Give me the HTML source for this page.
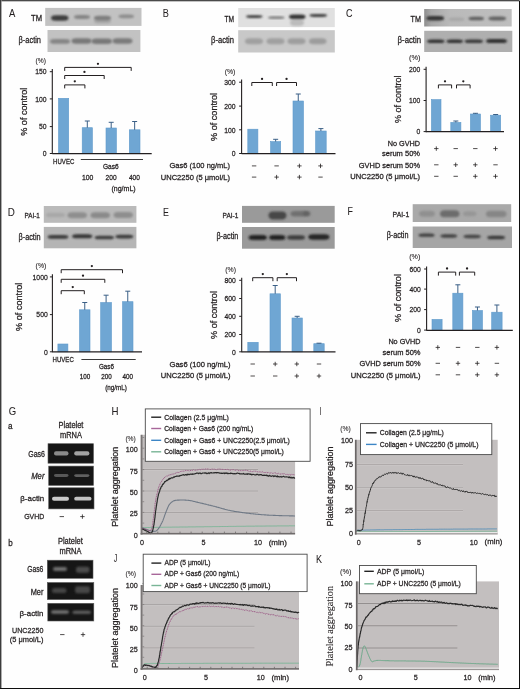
<!DOCTYPE html><html><head><meta charset="utf-8"><style>html,body{margin:0;padding:0;background:#fff;}svg{display:block;will-change:transform;}text{font-family:"Liberation Sans",sans-serif;}</style></head><body><svg width="520" height="689" viewBox="0 0 520 689" font-family='"Liberation Sans", sans-serif'><defs><filter id="bl" x="-50%" y="-50%" width="200%" height="200%"><feGaussianBlur stdDeviation="1.05"/></filter><linearGradient id="gC" x1="0" x2="1" y1="0" y2="0"><stop offset="0" stop-color="#8e8e8e"/><stop offset="0.08" stop-color="#a8a8a8"/><stop offset="0.3" stop-color="#bababa"/><stop offset="1" stop-color="#bebebe"/></linearGradient><filter id="bl2" x="-50%" y="-50%" width="200%" height="200%"><feGaussianBlur stdDeviation="1.4"/></filter><filter id="blg" x="-50%" y="-50%" width="200%" height="200%"><feGaussianBlur stdDeviation="0.75"/></filter><filter id="bl3" x="-50%" y="-50%" width="200%" height="200%"><feGaussianBlur stdDeviation="0.5"/></filter></defs>
<rect x="0" y="0" width="520" height="689" fill="#fefefe" />
<text x="9.00" y="17.12" font-size="10.8" fill="#231f20" stroke="#231f20" stroke-width="0.05" textLength="6.30" lengthAdjust="spacingAndGlyphs">A</text>
<g>
<rect x="45.2" y="7.9" width="96.3" height="18.0" fill="#c2c2c2" />
<rect x="51" y="15.25" width="17.5" height="5.5" rx="4.5" ry="2.75" fill="#3e3e3e" opacity="1" filter="url(#bl)"/>
<rect x="74" y="15.1" width="16" height="3.8" rx="4.5" ry="1.9" fill="#848484" opacity="1" filter="url(#bl)"/>
<rect x="94" y="18.5" width="17" height="5" rx="4.5" ry="2.5" fill="#a8a8a8" opacity="1" filter="url(#bl)"/>
<rect x="94" y="15.8" width="17" height="4.6" rx="4.5" ry="2.3" fill="#7e7e7e" opacity="1" filter="url(#bl)"/>
<rect x="118.5" y="14.4" width="15.5" height="3.8" rx="4.5" ry="1.9" fill="#8c8c8c" opacity="1" filter="url(#bl)"/>
</g>
<g>
<rect x="47.5" y="30" width="92.9" height="22" fill="#c2c2c2" />
<rect x="50" y="39.0" width="20" height="4.8" rx="4.5" ry="2.4" fill="#858585" opacity="1" filter="url(#bl)"/>
<rect x="71.5" y="38.35" width="20.0" height="5.5" rx="4.5" ry="2.75" fill="#787878" opacity="1" filter="url(#bl)"/>
<rect x="91.5" y="38.55" width="20.5" height="5.5" rx="4.5" ry="2.75" fill="#787878" opacity="1" filter="url(#bl)"/>
<rect x="112.5" y="38.35" width="20.0" height="5.5" rx="4.5" ry="2.75" fill="#7a7a7a" opacity="1" filter="url(#bl)"/>
</g>
<text x="31.00" y="20.52" font-size="8.2" fill="#231f20" stroke="#231f20" stroke-width="0.26" textLength="11.00" lengthAdjust="spacingAndGlyphs">TM</text>
<text x="18.60" y="43.46" font-size="8.3" fill="#231f20" stroke="#231f20" stroke-width="0.26" textLength="22.40" lengthAdjust="spacingAndGlyphs">β-actin</text>
<text x="35.60" y="62.84" font-size="6.5" fill="#231f20" stroke="#231f20" stroke-width="0.08" textLength="10.40" lengthAdjust="spacingAndGlyphs">(%)</text>
<rect x="58.5" y="98.3" width="10.200000000000003" height="55.3" fill="#6fa6d3" stroke="#5f9acb" stroke-width="0.6"/>
<rect x="82.2" y="127.7" width="10.200000000000003" height="25.89999999999999" fill="#6fa6d3" stroke="#5f9acb" stroke-width="0.6"/>
<line x1="87.30000000000001" y1="121" x2="87.30000000000001" y2="127.7" stroke="#3a5f86" stroke-width="1"/>
<line x1="84.80000000000001" y1="121" x2="89.80000000000001" y2="121" stroke="#3a5f86" stroke-width="1"/>
<rect x="106" y="128" width="10.400000000000006" height="25.599999999999994" fill="#6fa6d3" stroke="#5f9acb" stroke-width="0.6"/>
<line x1="111.2" y1="122.3" x2="111.2" y2="128" stroke="#3a5f86" stroke-width="1"/>
<line x1="108.7" y1="122.3" x2="113.7" y2="122.3" stroke="#3a5f86" stroke-width="1"/>
<rect x="129.3" y="129.8" width="10.699999999999989" height="23.799999999999983" fill="#6fa6d3" stroke="#5f9acb" stroke-width="0.6"/>
<line x1="134.65" y1="121.5" x2="134.65" y2="129.8" stroke="#3a5f86" stroke-width="1"/>
<line x1="132.15" y1="121.5" x2="137.15" y2="121.5" stroke="#3a5f86" stroke-width="1"/>
<line x1="52.3" y1="69.10000000000001" x2="52.3" y2="154.1" stroke="#231f20" stroke-width="1.1"/>
<line x1="49.8" y1="71.7" x2="52.3" y2="71.7" stroke="#231f20" stroke-width="1"/>
<text transform="translate(46.50,74.49) scale(0.84,1)" text-anchor="end" font-size="8.1" fill="#231f20" stroke="#231f20" stroke-width="0.26">150</text>
<line x1="49.8" y1="98.9" x2="52.3" y2="98.9" stroke="#231f20" stroke-width="1"/>
<text transform="translate(46.50,101.69) scale(0.84,1)" text-anchor="end" font-size="8.1" fill="#231f20" stroke="#231f20" stroke-width="0.26">100</text>
<line x1="49.8" y1="126.6" x2="52.3" y2="126.6" stroke="#231f20" stroke-width="1"/>
<text transform="translate(46.50,129.39) scale(0.84,1)" text-anchor="end" font-size="8.1" fill="#231f20" stroke="#231f20" stroke-width="0.26">50</text>
<line x1="49.8" y1="153.5" x2="52.3" y2="153.5" stroke="#231f20" stroke-width="1"/>
<text transform="translate(46.50,156.29) scale(0.84,1)" text-anchor="end" font-size="8.1" fill="#231f20" stroke="#231f20" stroke-width="0.26">0</text>
<line x1="52.3" y1="153.6" x2="151.7" y2="153.6" stroke="#231f20" stroke-width="1.2"/>
<path d="M64.7 88.39999999999999 V84.89999999999999 H84.9 V88.39999999999999" fill="none" stroke="#231f20" stroke-width="1.0"/>
<circle cx="74.80000000000001" cy="81.3" r="1.15" fill="#231f20"/>
<path d="M64.7 79.0 V75.5 H104.2 V79.0" fill="none" stroke="#231f20" stroke-width="1.0"/>
<circle cx="84.45" cy="71.9" r="1.15" fill="#231f20"/>
<path d="M64.7 70.89999999999999 V67.39999999999999 H131.2 V70.89999999999999" fill="none" stroke="#231f20" stroke-width="1.0"/>
<circle cx="97.94999999999999" cy="63.79999999999999" r="1.15" fill="#231f20"/>
<text transform="translate(26.97,111.75) rotate(-90)" x="-24.00" y="0" font-size="9.8" fill="#231f20" stroke="#231f20" stroke-width="0.26" textLength="48.00" lengthAdjust="spacingAndGlyphs">% of control</text>
<text x="53.10" y="163.78" font-size="7.5" fill="#231f20" stroke="#231f20" stroke-width="0.26" textLength="21.20" lengthAdjust="spacingAndGlyphs">HUVEC</text>
<line x1="80.8" y1="159.5" x2="143" y2="159.5" stroke="#3a3a3a" stroke-width="1.1"/>
<text x="103.00" y="169.48" font-size="7.5" fill="#231f20" stroke="#231f20" stroke-width="0.26" textLength="15.70" lengthAdjust="spacingAndGlyphs">Gas6</text>
<text x="81.90" y="180.28" font-size="7.5" fill="#231f20" stroke="#231f20" stroke-width="0.26" textLength="11.40" lengthAdjust="spacingAndGlyphs">100</text>
<text x="105.60" y="180.28" font-size="7.5" fill="#231f20" stroke="#231f20" stroke-width="0.26" textLength="11.00" lengthAdjust="spacingAndGlyphs">200</text>
<text x="128.90" y="180.28" font-size="7.5" fill="#231f20" stroke="#231f20" stroke-width="0.26" textLength="11.00" lengthAdjust="spacingAndGlyphs">400</text>
<text x="111.50" y="190.78" font-size="7.5" fill="#231f20" stroke="#231f20" stroke-width="0.26" textLength="24.10" lengthAdjust="spacingAndGlyphs">(ng/mL)</text>
<text x="162.70" y="17.21" font-size="10.5" fill="#231f20" stroke="#231f20" stroke-width="0.05" textLength="6.10" lengthAdjust="spacingAndGlyphs">B</text>
<g>
<rect x="238.2" y="8" width="96.60000000000002" height="19.1" fill="#e0e0e0" />
<rect x="246" y="15.200000000000001" width="16.5" height="2.8" rx="4.5" ry="1.4" fill="#3a3a3a" opacity="1" filter="url(#bl)"/>
<rect x="268" y="16.400000000000002" width="16.5" height="2.4" rx="4.5" ry="1.2" fill="#6e6e6e" opacity="1" filter="url(#bl)"/>
<rect x="290" y="19.0" width="14" height="7" rx="4.5" ry="3.5" fill="#bcbcbc" opacity="1" filter="url(#bl)"/>
<rect x="289" y="14.5" width="16.5" height="4.6" rx="4.5" ry="2.3" fill="#363636" opacity="1" filter="url(#bl)"/>
<rect x="309.5" y="14.1" width="17.5" height="2.8" rx="4.5" ry="1.4" fill="#404040" opacity="1" filter="url(#bl)"/>
</g>
<g>
<rect x="238.2" y="30.2" width="96.60000000000002" height="22.3" fill="#c8c8c8" />
<rect x="245" y="38.3" width="18" height="6" rx="4.5" ry="3.0" fill="#a0a0a0" opacity="1" filter="url(#bl)"/>
<rect x="266.5" y="38.3" width="18.0" height="6" rx="4.5" ry="3.0" fill="#a0a0a0" opacity="1" filter="url(#bl)"/>
<rect x="287.5" y="38.3" width="18.0" height="6" rx="4.5" ry="3.0" fill="#9e9e9e" opacity="1" filter="url(#bl)"/>
<rect x="309" y="38.3" width="17.5" height="6" rx="4.5" ry="3.0" fill="#9c9c9c" opacity="1" filter="url(#bl)"/>
</g>
<text x="224.50" y="22.12" font-size="8.2" fill="#231f20" stroke="#231f20" stroke-width="0.26" textLength="9.60" lengthAdjust="spacingAndGlyphs">TM</text>
<text x="211.00" y="42.56" font-size="8.3" fill="#231f20" stroke="#231f20" stroke-width="0.26" textLength="23.00" lengthAdjust="spacingAndGlyphs">β-actin</text>
<text x="224.70" y="73.74" font-size="6.5" fill="#231f20" stroke="#231f20" stroke-width="0.08" textLength="10.70" lengthAdjust="spacingAndGlyphs">(%)</text>
<rect x="247.8" y="129.2" width="10.099999999999966" height="24.400000000000006" fill="#6fa6d3" stroke="#5f9acb" stroke-width="0.6"/>
<rect x="270.6" y="141.6" width="10.099999999999966" height="12.0" fill="#6fa6d3" stroke="#5f9acb" stroke-width="0.6"/>
<line x1="275.65" y1="139.3" x2="275.65" y2="141.6" stroke="#3a5f86" stroke-width="1"/>
<line x1="273.15" y1="139.3" x2="278.15" y2="139.3" stroke="#3a5f86" stroke-width="1"/>
<rect x="293" y="101" width="10.5" height="52.599999999999994" fill="#6fa6d3" stroke="#5f9acb" stroke-width="0.6"/>
<line x1="298.25" y1="94" x2="298.25" y2="101" stroke="#3a5f86" stroke-width="1"/>
<line x1="295.75" y1="94" x2="300.75" y2="94" stroke="#3a5f86" stroke-width="1"/>
<rect x="315.6" y="131" width="10.599999999999966" height="22.599999999999994" fill="#6fa6d3" stroke="#5f9acb" stroke-width="0.6"/>
<line x1="320.9" y1="128.6" x2="320.9" y2="131" stroke="#3a5f86" stroke-width="1"/>
<line x1="318.4" y1="128.6" x2="323.4" y2="128.6" stroke="#3a5f86" stroke-width="1"/>
<line x1="241.6" y1="79.60000000000001" x2="241.6" y2="154.1" stroke="#231f20" stroke-width="1.1"/>
<line x1="239.1" y1="82.2" x2="241.6" y2="82.2" stroke="#231f20" stroke-width="1"/>
<text transform="translate(235.60,84.99) scale(0.84,1)" text-anchor="end" font-size="8.1" fill="#231f20" stroke="#231f20" stroke-width="0.26">300</text>
<line x1="239.1" y1="106.1" x2="241.6" y2="106.1" stroke="#231f20" stroke-width="1"/>
<text transform="translate(235.60,108.89) scale(0.84,1)" text-anchor="end" font-size="8.1" fill="#231f20" stroke="#231f20" stroke-width="0.26">200</text>
<line x1="239.1" y1="129.8" x2="241.6" y2="129.8" stroke="#231f20" stroke-width="1"/>
<text transform="translate(235.60,132.59) scale(0.84,1)" text-anchor="end" font-size="8.1" fill="#231f20" stroke="#231f20" stroke-width="0.26">100</text>
<line x1="239.1" y1="153.5" x2="241.6" y2="153.5" stroke="#231f20" stroke-width="1"/>
<text transform="translate(235.60,156.29) scale(0.84,1)" text-anchor="end" font-size="8.1" fill="#231f20" stroke="#231f20" stroke-width="0.26">0</text>
<line x1="241.6" y1="153.6" x2="335.5" y2="153.6" stroke="#231f20" stroke-width="1.2"/>
<path d="M251.8 86.0 V82.5 H272.3 V86.0" fill="none" stroke="#231f20" stroke-width="1.0"/>
<circle cx="262.05" cy="78.9" r="1.15" fill="#231f20"/>
<path d="M276.6 86.0 V82.5 H296.5 V86.0" fill="none" stroke="#231f20" stroke-width="1.0"/>
<circle cx="286.55" cy="78.9" r="1.15" fill="#231f20"/>
<text transform="translate(216.67,116.90) rotate(-90)" x="-24.00" y="0" font-size="9.8" fill="#231f20" stroke="#231f20" stroke-width="0.26" textLength="48.00" lengthAdjust="spacingAndGlyphs">% of control</text>
<line x1="251.9" y1="165.9" x2="256.3" y2="165.9" stroke="#231f20" stroke-width="0.8"/>
<line x1="274.40000000000003" y1="165.9" x2="278.8" y2="165.9" stroke="#231f20" stroke-width="0.8"/>
<line x1="297.2" y1="165.9" x2="301.59999999999997" y2="165.9" stroke="#231f20" stroke-width="0.8"/>
<line x1="299.4" y1="163.70000000000002" x2="299.4" y2="168.1" stroke="#231f20" stroke-width="0.8"/>
<line x1="318.3" y1="165.9" x2="322.7" y2="165.9" stroke="#231f20" stroke-width="0.8"/>
<line x1="320.5" y1="163.70000000000002" x2="320.5" y2="168.1" stroke="#231f20" stroke-width="0.8"/>
<line x1="251.9" y1="177.1" x2="256.3" y2="177.1" stroke="#231f20" stroke-width="0.8"/>
<line x1="274.40000000000003" y1="177.1" x2="278.8" y2="177.1" stroke="#231f20" stroke-width="0.8"/>
<line x1="276.6" y1="174.9" x2="276.6" y2="179.29999999999998" stroke="#231f20" stroke-width="0.8"/>
<line x1="297.2" y1="177.1" x2="301.59999999999997" y2="177.1" stroke="#231f20" stroke-width="0.8"/>
<line x1="299.4" y1="174.9" x2="299.4" y2="179.29999999999998" stroke="#231f20" stroke-width="0.8"/>
<line x1="318.3" y1="177.1" x2="322.7" y2="177.1" stroke="#231f20" stroke-width="0.8"/>
<text x="169.50" y="168.28" font-size="7.5" fill="#231f20" stroke="#231f20" stroke-width="0.26" textLength="60.50" lengthAdjust="spacingAndGlyphs">Gas6 (100 ng/mL)</text>
<text x="160.80" y="179.78" font-size="7.5" fill="#231f20" stroke="#231f20" stroke-width="0.26" textLength="69.20" lengthAdjust="spacingAndGlyphs">UNC2250 (5 μmol/L)</text>
<text x="346.00" y="17.21" font-size="10.5" fill="#231f20" stroke="#231f20" stroke-width="0.05" textLength="6.50" lengthAdjust="spacingAndGlyphs">C</text>
<g>
<rect x="424.2" y="9" width="87.5" height="17.5" fill="url(#gC)" />
<rect x="426.5" y="16.05" width="17.5" height="4.5" rx="4.5" ry="2.25" fill="#353535" opacity="1" filter="url(#bl)"/>
<rect x="448.5" y="17.45" width="16.0" height="3.5" rx="4.5" ry="1.75" fill="#a8a8a8" opacity="1" filter="url(#bl)"/>
<rect x="468.5" y="16.75" width="15.5" height="3.5" rx="4.5" ry="1.75" fill="#5e5e5e" opacity="1" filter="url(#bl)"/>
<rect x="488.5" y="16.6" width="17.5" height="3.8" rx="4.5" ry="1.9" fill="#646464" opacity="1" filter="url(#bl)"/>
</g>
<g>
<rect x="424.2" y="30.8" width="88.09999999999997" height="21.2" fill="#afafaf" />
<rect x="427" y="39.5" width="17.5" height="3.6" rx="4.5" ry="1.8" fill="#303030" opacity="1" filter="url(#bl)"/>
<rect x="446.5" y="39.5" width="16.5" height="3.6" rx="4.5" ry="1.8" fill="#303030" opacity="1" filter="url(#bl)"/>
<rect x="464.6" y="39.400000000000006" width="18.399999999999977" height="3.6" rx="4.5" ry="1.8" fill="#383838" opacity="1" filter="url(#bl)"/>
<rect x="486" y="38.9" width="21" height="4.2" rx="4.5" ry="2.1" fill="#303030" opacity="1" filter="url(#bl)"/>
</g>
<text x="410.60" y="22.02" font-size="8.2" fill="#231f20" stroke="#231f20" stroke-width="0.26" textLength="10.40" lengthAdjust="spacingAndGlyphs">TM</text>
<text x="397.60" y="42.76" font-size="8.3" fill="#231f20" stroke="#231f20" stroke-width="0.26" textLength="23.40" lengthAdjust="spacingAndGlyphs">β-actin</text>
<text x="409.00" y="59.94" font-size="6.5" fill="#231f20" stroke="#231f20" stroke-width="0.08" textLength="11.50" lengthAdjust="spacingAndGlyphs">(%)</text>
<rect x="431.4" y="99.6" width="9.600000000000023" height="32.099999999999994" fill="#6fa6d3" stroke="#5f9acb" stroke-width="0.6"/>
<rect x="450.8" y="122.4" width="10.099999999999966" height="9.299999999999983" fill="#6fa6d3" stroke="#5f9acb" stroke-width="0.6"/>
<line x1="455.85" y1="121" x2="455.85" y2="122.4" stroke="#3a5f86" stroke-width="1"/>
<line x1="453.35" y1="121" x2="458.35" y2="121" stroke="#3a5f86" stroke-width="1"/>
<rect x="470.4" y="114" width="10.100000000000023" height="17.69999999999999" fill="#6fa6d3" stroke="#5f9acb" stroke-width="0.6"/>
<line x1="475.45" y1="113.3" x2="475.45" y2="114" stroke="#3a5f86" stroke-width="1"/>
<line x1="472.95" y1="113.3" x2="477.95" y2="113.3" stroke="#3a5f86" stroke-width="1"/>
<rect x="490.6" y="115.2" width="10.099999999999966" height="16.499999999999986" fill="#6fa6d3" stroke="#5f9acb" stroke-width="0.6"/>
<line x1="495.65" y1="114.5" x2="495.65" y2="115.2" stroke="#3a5f86" stroke-width="1"/>
<line x1="493.15" y1="114.5" x2="498.15" y2="114.5" stroke="#3a5f86" stroke-width="1"/>
<line x1="426.1" y1="66.7" x2="426.1" y2="132.2" stroke="#231f20" stroke-width="1.1"/>
<line x1="423.6" y1="69.3" x2="426.1" y2="69.3" stroke="#231f20" stroke-width="1"/>
<text transform="translate(420.30,72.09) scale(0.84,1)" text-anchor="end" font-size="8.1" fill="#231f20" stroke="#231f20" stroke-width="0.26">200</text>
<line x1="423.6" y1="100.5" x2="426.1" y2="100.5" stroke="#231f20" stroke-width="1"/>
<text transform="translate(420.30,103.29) scale(0.84,1)" text-anchor="end" font-size="8.1" fill="#231f20" stroke="#231f20" stroke-width="0.26">100</text>
<line x1="423.6" y1="131.6" x2="426.1" y2="131.6" stroke="#231f20" stroke-width="1"/>
<text transform="translate(420.30,134.39) scale(0.84,1)" text-anchor="end" font-size="8.1" fill="#231f20" stroke="#231f20" stroke-width="0.26">0</text>
<line x1="426.1" y1="131.7" x2="504" y2="131.7" stroke="#231f20" stroke-width="1.2"/>
<path d="M438.4 88.39999999999999 V84.89999999999999 H451.6 V88.39999999999999" fill="none" stroke="#231f20" stroke-width="1.0"/>
<circle cx="445.0" cy="81.3" r="1.15" fill="#231f20"/>
<path d="M456.5 88.39999999999999 V84.89999999999999 H470.1 V88.39999999999999" fill="none" stroke="#231f20" stroke-width="1.0"/>
<circle cx="463.3" cy="81.3" r="1.15" fill="#231f20"/>
<text transform="translate(400.97,99.30) rotate(-90)" x="-23.75" y="0" font-size="9.8" fill="#231f20" stroke="#231f20" stroke-width="0.26" textLength="47.50" lengthAdjust="spacingAndGlyphs">% of control</text>
<text x="387.70" y="146.38" font-size="7.5" fill="#231f20" stroke="#231f20" stroke-width="0.26" textLength="32.30" lengthAdjust="spacingAndGlyphs">No GVHD</text>
<text x="382.00" y="155.58" font-size="7.5" fill="#231f20" stroke="#231f20" stroke-width="0.26" textLength="38.00" lengthAdjust="spacingAndGlyphs">serum 50%</text>
<text x="358.80" y="167.58" font-size="7.5" fill="#231f20" stroke="#231f20" stroke-width="0.26" textLength="61.20" lengthAdjust="spacingAndGlyphs">GVHD serum 50%</text>
<text x="350.30" y="179.38" font-size="7.5" fill="#231f20" stroke="#231f20" stroke-width="0.26" textLength="69.70" lengthAdjust="spacingAndGlyphs">UNC2250 (5 μmol/L)</text>
<line x1="434.1" y1="148.6" x2="438.5" y2="148.6" stroke="#231f20" stroke-width="0.8"/>
<line x1="436.3" y1="146.4" x2="436.3" y2="150.79999999999998" stroke="#231f20" stroke-width="0.8"/>
<line x1="453.5" y1="148.6" x2="457.9" y2="148.6" stroke="#231f20" stroke-width="0.8"/>
<line x1="473.1" y1="148.6" x2="477.5" y2="148.6" stroke="#231f20" stroke-width="0.8"/>
<line x1="493.3" y1="148.6" x2="497.7" y2="148.6" stroke="#231f20" stroke-width="0.8"/>
<line x1="495.5" y1="146.4" x2="495.5" y2="150.79999999999998" stroke="#231f20" stroke-width="0.8"/>
<line x1="434.1" y1="164.8" x2="438.5" y2="164.8" stroke="#231f20" stroke-width="0.8"/>
<line x1="453.5" y1="164.8" x2="457.9" y2="164.8" stroke="#231f20" stroke-width="0.8"/>
<line x1="455.7" y1="162.60000000000002" x2="455.7" y2="167.0" stroke="#231f20" stroke-width="0.8"/>
<line x1="473.1" y1="164.8" x2="477.5" y2="164.8" stroke="#231f20" stroke-width="0.8"/>
<line x1="475.3" y1="162.60000000000002" x2="475.3" y2="167.0" stroke="#231f20" stroke-width="0.8"/>
<line x1="493.3" y1="164.8" x2="497.7" y2="164.8" stroke="#231f20" stroke-width="0.8"/>
<line x1="434.1" y1="176.3" x2="438.5" y2="176.3" stroke="#231f20" stroke-width="0.8"/>
<line x1="453.5" y1="176.3" x2="457.9" y2="176.3" stroke="#231f20" stroke-width="0.8"/>
<line x1="473.1" y1="176.3" x2="477.5" y2="176.3" stroke="#231f20" stroke-width="0.8"/>
<line x1="475.3" y1="174.10000000000002" x2="475.3" y2="178.5" stroke="#231f20" stroke-width="0.8"/>
<line x1="493.3" y1="176.3" x2="497.7" y2="176.3" stroke="#231f20" stroke-width="0.8"/>
<line x1="495.5" y1="174.10000000000002" x2="495.5" y2="178.5" stroke="#231f20" stroke-width="0.8"/>
<text x="7.70" y="216.01" font-size="10.5" fill="#231f20" stroke="#231f20" stroke-width="0.05" textLength="7.10" lengthAdjust="spacingAndGlyphs">D</text>
<g>
<rect x="43.8" y="206" width="92.60000000000001" height="16.80000000000001" fill="#bababa" />
<rect x="46" y="212.75" width="19" height="4.5" rx="4.5" ry="2.25" fill="#a8a8a8" opacity="1" filter="url(#bl)"/>
<rect x="67.5" y="212.3" width="19.5" height="6" rx="4.5" ry="3.0" fill="#8e8e8e" opacity="1" filter="url(#bl)"/>
<rect x="90.5" y="212.2" width="19.5" height="6" rx="4.5" ry="3.0" fill="#8a8a8a" opacity="1" filter="url(#bl)"/>
<rect x="113.5" y="212.0" width="19.5" height="6" rx="4.5" ry="3.0" fill="#8e8e8e" opacity="1" filter="url(#bl)"/>
</g>
<g>
<rect x="43.8" y="226.9" width="92.60000000000001" height="21.400000000000006" fill="#b5b5b5" />
<rect x="47.6" y="235.1" width="20.800000000000004" height="3.6" rx="4.5" ry="1.8" fill="#3a3a3a" opacity="1" filter="url(#bl)"/>
<rect x="72.1" y="234.3" width="20.200000000000003" height="4" rx="4.5" ry="2.0" fill="#363636" opacity="1" filter="url(#bl)"/>
<rect x="94.6" y="235.7" width="19.400000000000006" height="3.6" rx="4.5" ry="1.8" fill="#3a3a3a" opacity="1" filter="url(#bl)"/>
<rect x="115.4" y="234.7" width="17.900000000000006" height="3.8" rx="4.5" ry="1.9" fill="#3a3a3a" opacity="1" filter="url(#bl)"/>
</g>
<text x="24.50" y="218.05" font-size="7.4" fill="#231f20" stroke="#231f20" stroke-width="0.26" textLength="15.30" lengthAdjust="spacingAndGlyphs">PAI-1</text>
<text x="18.50" y="239.76" font-size="8.3" fill="#231f20" stroke="#231f20" stroke-width="0.26" textLength="22.10" lengthAdjust="spacingAndGlyphs">β-actin</text>
<text x="35.60" y="267.54" font-size="6.5" fill="#231f20" stroke="#231f20" stroke-width="0.08" textLength="10.70" lengthAdjust="spacingAndGlyphs">(%)</text>
<rect x="57.9" y="344" width="10.000000000000007" height="7.800000000000011" fill="#6fa6d3" stroke="#5f9acb" stroke-width="0.6"/>
<rect x="79.5" y="309.8" width="10.5" height="42.0" fill="#6fa6d3" stroke="#5f9acb" stroke-width="0.6"/>
<line x1="84.75" y1="302.5" x2="84.75" y2="309.8" stroke="#3a5f86" stroke-width="1"/>
<line x1="82.25" y1="302.5" x2="87.25" y2="302.5" stroke="#3a5f86" stroke-width="1"/>
<rect x="100.7" y="302.5" width="10.799999999999997" height="49.30000000000001" fill="#6fa6d3" stroke="#5f9acb" stroke-width="0.6"/>
<line x1="106.1" y1="295.2" x2="106.1" y2="302.5" stroke="#3a5f86" stroke-width="1"/>
<line x1="103.6" y1="295.2" x2="108.6" y2="295.2" stroke="#3a5f86" stroke-width="1"/>
<rect x="122.5" y="301.7" width="10.5" height="50.10000000000002" fill="#6fa6d3" stroke="#5f9acb" stroke-width="0.6"/>
<line x1="127.75" y1="291.2" x2="127.75" y2="301.7" stroke="#3a5f86" stroke-width="1"/>
<line x1="125.25" y1="291.2" x2="130.25" y2="291.2" stroke="#3a5f86" stroke-width="1"/>
<line x1="52.4" y1="274.29999999999995" x2="52.4" y2="352.3" stroke="#231f20" stroke-width="1.1"/>
<line x1="49.9" y1="276.9" x2="52.4" y2="276.9" stroke="#231f20" stroke-width="1"/>
<text transform="translate(47.70,279.69) scale(0.84,1)" text-anchor="end" font-size="8.1" fill="#231f20" stroke="#231f20" stroke-width="0.26">1000</text>
<line x1="49.9" y1="314.6" x2="52.4" y2="314.6" stroke="#231f20" stroke-width="1"/>
<text transform="translate(47.70,317.39) scale(0.84,1)" text-anchor="end" font-size="8.1" fill="#231f20" stroke="#231f20" stroke-width="0.26">500</text>
<line x1="49.9" y1="351.8" x2="52.4" y2="351.8" stroke="#231f20" stroke-width="1"/>
<text transform="translate(47.70,354.59) scale(0.84,1)" text-anchor="end" font-size="8.1" fill="#231f20" stroke="#231f20" stroke-width="0.26">0</text>
<line x1="52.4" y1="351.8" x2="142" y2="351.8" stroke="#231f20" stroke-width="1.2"/>
<path d="M61.2 294.2 V290.7 H84.3 V294.2" fill="none" stroke="#231f20" stroke-width="1.0"/>
<circle cx="72.75" cy="287.09999999999997" r="1.15" fill="#231f20"/>
<path d="M61.2 282.8 V279.3 H104.8 V282.8" fill="none" stroke="#231f20" stroke-width="1.0"/>
<circle cx="83.0" cy="275.7" r="1.15" fill="#231f20"/>
<path d="M61.2 273.2 V269.7 H122.5 V273.2" fill="none" stroke="#231f20" stroke-width="1.0"/>
<circle cx="91.85" cy="266.09999999999997" r="1.15" fill="#231f20"/>
<text transform="translate(22.47,306.80) rotate(-90)" x="-24.10" y="0" font-size="9.8" fill="#231f20" stroke="#231f20" stroke-width="0.26" textLength="48.20" lengthAdjust="spacingAndGlyphs">% of control</text>
<text x="52.50" y="362.08" font-size="7.5" fill="#231f20" stroke="#231f20" stroke-width="0.26" textLength="21.30" lengthAdjust="spacingAndGlyphs">HUVEC</text>
<line x1="81.4" y1="359.5" x2="135.7" y2="359.5" stroke="#3a3a3a" stroke-width="1.1"/>
<text transform="translate(106.40,368.71) scale(0.9,1)" text-anchor="middle" font-size="7" fill="#231f20" stroke="#231f20" stroke-width="0.26">Gas6</text>
<text transform="translate(84.90,378.91) scale(0.9,1)" text-anchor="middle" font-size="7" fill="#231f20" stroke="#231f20" stroke-width="0.26">100</text>
<text transform="translate(106.40,378.91) scale(0.9,1)" text-anchor="middle" font-size="7" fill="#231f20" stroke="#231f20" stroke-width="0.26">200</text>
<text transform="translate(127.70,378.91) scale(0.9,1)" text-anchor="middle" font-size="7" fill="#231f20" stroke="#231f20" stroke-width="0.26">400</text>
<text transform="translate(116.00,390.31) scale(0.9,1)" text-anchor="middle" font-size="7" fill="#231f20" stroke="#231f20" stroke-width="0.26">(ng/mL)</text>
<text x="163.00" y="216.21" font-size="10.5" fill="#231f20" stroke="#231f20" stroke-width="0.05" textLength="5.90" lengthAdjust="spacingAndGlyphs">E</text>
<g>
<rect x="242" y="205.9" width="92.69999999999999" height="16.900000000000006" fill="#9a9a9a" />
<rect x="268.5" y="211.4" width="18.0" height="8" rx="4.5" ry="4.0" fill="#464646" opacity="1" filter="url(#bl)"/>
<rect x="290.5" y="211.05" width="20.0" height="5.5" rx="4.5" ry="2.75" fill="#707070" opacity="1" filter="url(#bl)"/>
<rect x="303" y="211.5" width="6" height="4" rx="2.727272727272727" ry="2.0" fill="#606060" opacity="1" filter="url(#bl)"/>
</g>
<g>
<rect x="242" y="227" width="92.69999999999999" height="21.69999999999999" fill="#9a9a9a" />
<rect x="248.6" y="234.9" width="18.400000000000006" height="5" rx="4.5" ry="2.5" fill="#222" opacity="1" filter="url(#bl)"/>
<rect x="269" y="234.9" width="16.399999999999977" height="5" rx="4.5" ry="2.5" fill="#222" opacity="1" filter="url(#bl)"/>
<rect x="287" y="235.15" width="18" height="4.5" rx="4.5" ry="2.25" fill="#3c3c3c" opacity="1" filter="url(#bl)"/>
<rect x="308.3" y="234.25" width="21.099999999999966" height="5.5" rx="4.5" ry="2.75" fill="#262626" opacity="1" filter="url(#bl)"/>
</g>
<text x="222.60" y="217.58" font-size="7.5" fill="#231f20" stroke="#231f20" stroke-width="0.26" textLength="15.70" lengthAdjust="spacingAndGlyphs">PAI-1</text>
<text x="216.40" y="239.26" font-size="8.3" fill="#231f20" stroke="#231f20" stroke-width="0.26" textLength="21.90" lengthAdjust="spacingAndGlyphs">β-actin</text>
<text x="225.30" y="271.54" font-size="6.5" fill="#231f20" stroke="#231f20" stroke-width="0.08" textLength="10.70" lengthAdjust="spacingAndGlyphs">(%)</text>
<rect x="247.8" y="342.3" width="10.399999999999977" height="9.5" fill="#6fa6d3" stroke="#5f9acb" stroke-width="0.6"/>
<rect x="270" y="293.8" width="10.399999999999977" height="58.0" fill="#6fa6d3" stroke="#5f9acb" stroke-width="0.6"/>
<line x1="275.2" y1="285.5" x2="275.2" y2="293.8" stroke="#3a5f86" stroke-width="1"/>
<line x1="272.7" y1="285.5" x2="277.7" y2="285.5" stroke="#3a5f86" stroke-width="1"/>
<rect x="292" y="318" width="10.300000000000011" height="33.80000000000001" fill="#6fa6d3" stroke="#5f9acb" stroke-width="0.6"/>
<line x1="297.15" y1="316.3" x2="297.15" y2="318" stroke="#3a5f86" stroke-width="1"/>
<line x1="294.65" y1="316.3" x2="299.65" y2="316.3" stroke="#3a5f86" stroke-width="1"/>
<rect x="313.8" y="343.7" width="10.399999999999977" height="8.100000000000023" fill="#6fa6d3" stroke="#5f9acb" stroke-width="0.6"/>
<line x1="319.0" y1="343.2" x2="319.0" y2="343.7" stroke="#3a5f86" stroke-width="1"/>
<line x1="316.5" y1="343.2" x2="321.5" y2="343.2" stroke="#3a5f86" stroke-width="1"/>
<line x1="241.7" y1="277.7" x2="241.7" y2="352.3" stroke="#231f20" stroke-width="1.1"/>
<line x1="239.2" y1="280.3" x2="241.7" y2="280.3" stroke="#231f20" stroke-width="1"/>
<text transform="translate(235.80,283.09) scale(0.84,1)" text-anchor="end" font-size="8.1" fill="#231f20" stroke="#231f20" stroke-width="0.26">800</text>
<line x1="239.2" y1="298.5" x2="241.7" y2="298.5" stroke="#231f20" stroke-width="1"/>
<text transform="translate(235.80,301.29) scale(0.84,1)" text-anchor="end" font-size="8.1" fill="#231f20" stroke="#231f20" stroke-width="0.26">600</text>
<line x1="239.2" y1="316.3" x2="241.7" y2="316.3" stroke="#231f20" stroke-width="1"/>
<text transform="translate(235.80,319.09) scale(0.84,1)" text-anchor="end" font-size="8.1" fill="#231f20" stroke="#231f20" stroke-width="0.26">400</text>
<line x1="239.2" y1="334.5" x2="241.7" y2="334.5" stroke="#231f20" stroke-width="1"/>
<text transform="translate(235.80,337.29) scale(0.84,1)" text-anchor="end" font-size="8.1" fill="#231f20" stroke="#231f20" stroke-width="0.26">200</text>
<line x1="239.2" y1="351.8" x2="241.7" y2="351.8" stroke="#231f20" stroke-width="1"/>
<text transform="translate(235.80,354.59) scale(0.84,1)" text-anchor="end" font-size="8.1" fill="#231f20" stroke="#231f20" stroke-width="0.26">0</text>
<line x1="241.7" y1="351.8" x2="335.5" y2="351.8" stroke="#231f20" stroke-width="1.2"/>
<path d="M252.7 281.2 V277.7 H272.9 V281.2" fill="none" stroke="#231f20" stroke-width="1.0"/>
<circle cx="262.79999999999995" cy="274.09999999999997" r="1.15" fill="#231f20"/>
<path d="M277.2 281.2 V277.7 H296.5 V281.2" fill="none" stroke="#231f20" stroke-width="1.0"/>
<circle cx="286.85" cy="274.09999999999997" r="1.15" fill="#231f20"/>
<text transform="translate(216.67,315.00) rotate(-90)" x="-23.90" y="0" font-size="9.8" fill="#231f20" stroke="#231f20" stroke-width="0.26" textLength="47.80" lengthAdjust="spacingAndGlyphs">% of control</text>
<line x1="250.5" y1="364" x2="254.89999999999998" y2="364" stroke="#231f20" stroke-width="0.8"/>
<line x1="273.0" y1="364" x2="277.4" y2="364" stroke="#231f20" stroke-width="0.8"/>
<line x1="275.2" y1="361.8" x2="275.2" y2="366.2" stroke="#231f20" stroke-width="0.8"/>
<line x1="294.6" y1="364" x2="299.0" y2="364" stroke="#231f20" stroke-width="0.8"/>
<line x1="296.8" y1="361.8" x2="296.8" y2="366.2" stroke="#231f20" stroke-width="0.8"/>
<line x1="316.8" y1="364" x2="321.2" y2="364" stroke="#231f20" stroke-width="0.8"/>
<line x1="250.5" y1="376" x2="254.89999999999998" y2="376" stroke="#231f20" stroke-width="0.8"/>
<line x1="273.0" y1="376" x2="277.4" y2="376" stroke="#231f20" stroke-width="0.8"/>
<line x1="294.6" y1="376" x2="299.0" y2="376" stroke="#231f20" stroke-width="0.8"/>
<line x1="296.8" y1="373.8" x2="296.8" y2="378.2" stroke="#231f20" stroke-width="0.8"/>
<line x1="316.8" y1="376" x2="321.2" y2="376" stroke="#231f20" stroke-width="0.8"/>
<line x1="319" y1="373.8" x2="319" y2="378.2" stroke="#231f20" stroke-width="0.8"/>
<text x="169.50" y="366.88" font-size="7.5" fill="#231f20" stroke="#231f20" stroke-width="0.26" textLength="61.00" lengthAdjust="spacingAndGlyphs">Gas6 (100 ng/mL)</text>
<text x="160.80" y="377.58" font-size="7.5" fill="#231f20" stroke="#231f20" stroke-width="0.26" textLength="69.70" lengthAdjust="spacingAndGlyphs">UNC2250 (5 μmol/L)</text>
<text x="347.60" y="215.11" font-size="10.5" fill="#231f20" stroke="#231f20" stroke-width="0.05" textLength="5.40" lengthAdjust="spacingAndGlyphs">F</text>
<g>
<rect x="412.7" y="204.2" width="98.5" height="17.80000000000001" fill="#a9a9a9" />
<rect x="419" y="210.8" width="16" height="6" rx="4.5" ry="3.0" fill="#909090" opacity="1" filter="url(#bl)"/>
<rect x="440" y="210.3" width="19.5" height="7" rx="4.5" ry="3.5" fill="#6c6c6c" opacity="1" filter="url(#bl)"/>
<rect x="463" y="211.3" width="13.5" height="5" rx="4.5" ry="2.5" fill="#969696" opacity="1" filter="url(#bl)"/>
<rect x="486" y="210.75" width="20.5" height="6.5" rx="4.5" ry="3.25" fill="#868686" opacity="1" filter="url(#bl)"/>
</g>
<g>
<rect x="412.7" y="226.5" width="99.30000000000001" height="21.5" fill="#a5a5a5" />
<rect x="418.5" y="233.54999999999998" width="16.100000000000023" height="3.3" rx="4.5" ry="1.65" fill="#3e3e3e" opacity="1" filter="url(#bl)"/>
<rect x="440.4" y="234.35" width="16.80000000000001" height="3.3" rx="4.5" ry="1.65" fill="#404040" opacity="1" filter="url(#bl)"/>
<rect x="463.5" y="234.85" width="17.30000000000001" height="3.3" rx="4.5" ry="1.65" fill="#444" opacity="1" filter="url(#bl)"/>
<rect x="487.2" y="235.7" width="17.80000000000001" height="3.6" rx="4.5" ry="1.8" fill="#383838" opacity="1" filter="url(#bl)"/>
</g>
<text x="392.60" y="216.78" font-size="7.5" fill="#231f20" stroke="#231f20" stroke-width="0.26" textLength="16.60" lengthAdjust="spacingAndGlyphs">PAI-1</text>
<text x="386.70" y="238.26" font-size="8.3" fill="#231f20" stroke="#231f20" stroke-width="0.26" textLength="21.80" lengthAdjust="spacingAndGlyphs">β-actin</text>
<text x="409.20" y="259.04" font-size="6.5" fill="#231f20" stroke="#231f20" stroke-width="0.08" textLength="11.10" lengthAdjust="spacingAndGlyphs">(%)</text>
<rect x="432" y="319.4" width="10.100000000000023" height="10.900000000000034" fill="#6fa6d3" stroke="#5f9acb" stroke-width="0.6"/>
<rect x="452.8" y="293.2" width="10.099999999999966" height="37.10000000000002" fill="#6fa6d3" stroke="#5f9acb" stroke-width="0.6"/>
<line x1="457.85" y1="284.8" x2="457.85" y2="293.2" stroke="#3a5f86" stroke-width="1"/>
<line x1="455.35" y1="284.8" x2="460.35" y2="284.8" stroke="#3a5f86" stroke-width="1"/>
<rect x="472.4" y="310.5" width="10.100000000000023" height="19.80000000000001" fill="#6fa6d3" stroke="#5f9acb" stroke-width="0.6"/>
<line x1="477.45" y1="307" x2="477.45" y2="310.5" stroke="#3a5f86" stroke-width="1"/>
<line x1="474.95" y1="307" x2="479.95" y2="307" stroke="#3a5f86" stroke-width="1"/>
<rect x="491.7" y="312.2" width="10.400000000000034" height="18.100000000000023" fill="#6fa6d3" stroke="#5f9acb" stroke-width="0.6"/>
<line x1="496.9" y1="305" x2="496.9" y2="312.2" stroke="#3a5f86" stroke-width="1"/>
<line x1="494.4" y1="305" x2="499.4" y2="305" stroke="#3a5f86" stroke-width="1"/>
<line x1="426.6" y1="266.4" x2="426.6" y2="330.8" stroke="#231f20" stroke-width="1.1"/>
<line x1="424.1" y1="269" x2="426.6" y2="269" stroke="#231f20" stroke-width="1"/>
<text transform="translate(420.80,271.79) scale(0.84,1)" text-anchor="end" font-size="8.1" fill="#231f20" stroke="#231f20" stroke-width="0.26">600</text>
<line x1="424.1" y1="289.1" x2="426.6" y2="289.1" stroke="#231f20" stroke-width="1"/>
<text transform="translate(420.80,291.89) scale(0.84,1)" text-anchor="end" font-size="8.1" fill="#231f20" stroke="#231f20" stroke-width="0.26">400</text>
<line x1="424.1" y1="309.6" x2="426.6" y2="309.6" stroke="#231f20" stroke-width="1"/>
<text transform="translate(420.80,312.39) scale(0.84,1)" text-anchor="end" font-size="8.1" fill="#231f20" stroke="#231f20" stroke-width="0.26">200</text>
<line x1="424.1" y1="330.1" x2="426.6" y2="330.1" stroke="#231f20" stroke-width="1"/>
<text transform="translate(420.80,332.89) scale(0.84,1)" text-anchor="end" font-size="8.1" fill="#231f20" stroke="#231f20" stroke-width="0.26">0</text>
<line x1="426.6" y1="330.3" x2="512.8" y2="330.3" stroke="#231f20" stroke-width="1.2"/>
<path d="M438.4 275.6 V272.1 H455.7 V275.6" fill="none" stroke="#231f20" stroke-width="1.0"/>
<circle cx="447.04999999999995" cy="268.5" r="1.15" fill="#231f20"/>
<path d="M459.4 275.6 V272.1 H474.7 V275.6" fill="none" stroke="#231f20" stroke-width="1.0"/>
<circle cx="467.04999999999995" cy="268.5" r="1.15" fill="#231f20"/>
<text transform="translate(401.47,298.00) rotate(-90)" x="-23.90" y="0" font-size="9.8" fill="#231f20" stroke="#231f20" stroke-width="0.26" textLength="47.80" lengthAdjust="spacingAndGlyphs">% of control</text>
<text x="388.40" y="344.08" font-size="7.5" fill="#231f20" stroke="#231f20" stroke-width="0.26" textLength="32.10" lengthAdjust="spacingAndGlyphs">No GVHD</text>
<text x="382.60" y="354.58" font-size="7.5" fill="#231f20" stroke="#231f20" stroke-width="0.26" textLength="37.90" lengthAdjust="spacingAndGlyphs">serum 50%</text>
<text x="359.50" y="366.08" font-size="7.5" fill="#231f20" stroke="#231f20" stroke-width="0.26" textLength="61.00" lengthAdjust="spacingAndGlyphs">GVHD serum 50%</text>
<text x="350.80" y="377.58" font-size="7.5" fill="#231f20" stroke="#231f20" stroke-width="0.26" textLength="69.70" lengthAdjust="spacingAndGlyphs">UNC2250 (5 μmol/L)</text>
<line x1="435.6" y1="347.4" x2="440.0" y2="347.4" stroke="#231f20" stroke-width="0.8"/>
<line x1="437.8" y1="345.2" x2="437.8" y2="349.59999999999997" stroke="#231f20" stroke-width="0.8"/>
<line x1="455.8" y1="347.4" x2="460.2" y2="347.4" stroke="#231f20" stroke-width="0.8"/>
<line x1="475.1" y1="347.4" x2="479.5" y2="347.4" stroke="#231f20" stroke-width="0.8"/>
<line x1="494.7" y1="347.4" x2="499.09999999999997" y2="347.4" stroke="#231f20" stroke-width="0.8"/>
<line x1="496.9" y1="345.2" x2="496.9" y2="349.59999999999997" stroke="#231f20" stroke-width="0.8"/>
<line x1="435.6" y1="363.3" x2="440.0" y2="363.3" stroke="#231f20" stroke-width="0.8"/>
<line x1="455.8" y1="363.3" x2="460.2" y2="363.3" stroke="#231f20" stroke-width="0.8"/>
<line x1="458" y1="361.1" x2="458" y2="365.5" stroke="#231f20" stroke-width="0.8"/>
<line x1="475.1" y1="363.3" x2="479.5" y2="363.3" stroke="#231f20" stroke-width="0.8"/>
<line x1="477.3" y1="361.1" x2="477.3" y2="365.5" stroke="#231f20" stroke-width="0.8"/>
<line x1="494.7" y1="363.3" x2="499.09999999999997" y2="363.3" stroke="#231f20" stroke-width="0.8"/>
<line x1="435.6" y1="374.8" x2="440.0" y2="374.8" stroke="#231f20" stroke-width="0.8"/>
<line x1="455.8" y1="374.8" x2="460.2" y2="374.8" stroke="#231f20" stroke-width="0.8"/>
<line x1="475.1" y1="374.8" x2="479.5" y2="374.8" stroke="#231f20" stroke-width="0.8"/>
<line x1="477.3" y1="372.6" x2="477.3" y2="377.0" stroke="#231f20" stroke-width="0.8"/>
<line x1="494.7" y1="374.8" x2="499.09999999999997" y2="374.8" stroke="#231f20" stroke-width="0.8"/>
<line x1="496.9" y1="372.6" x2="496.9" y2="377.0" stroke="#231f20" stroke-width="0.8"/>
<text x="8.80" y="415.11" font-size="10.5" fill="#231f20" stroke="#231f20" stroke-width="0.05" textLength="7.40" lengthAdjust="spacingAndGlyphs">G</text>
<text transform="translate(12.60,428.80) scale(0.9,1)" text-anchor="end" font-size="9" fill="#231f20" stroke="#231f20" stroke-width="0.26">a</text>
<text transform="translate(71.00,427.86) scale(0.9,1)" text-anchor="middle" font-size="8.3" fill="#231f20" stroke="#231f20" stroke-width="0.26">Platelet</text>
<text transform="translate(71.00,437.56) scale(0.9,1)" text-anchor="middle" font-size="8.3" fill="#231f20" stroke="#231f20" stroke-width="0.26">mRNA</text>
<rect x="48" y="443.7" width="45.5" height="19.5" fill="#161616" stroke="#5a5a5a" stroke-width="0.6"/>
<rect x="54" y="451.29999999999995" width="14.5" height="4.2" rx="2" ry="2.1" fill="#8a8a8a" filter="url(#blg)"/>
<rect x="74.2" y="451.29999999999995" width="15.200000000000003" height="4.2" rx="2" ry="2.1" fill="#a2a2a2" filter="url(#blg)"/>
<rect x="48.7" y="466.1" width="44.8" height="19.299999999999955" fill="#161616" stroke="#5a5a5a" stroke-width="0.6"/>
<rect x="54" y="474.1" width="14.5" height="2.8" rx="2" ry="1.4" fill="#585858" filter="url(#blg)"/>
<rect x="74.2" y="474.20000000000005" width="15.200000000000003" height="2.8" rx="2" ry="1.4" fill="#606060" filter="url(#blg)"/>
<rect x="48.7" y="487.8" width="45.3" height="21.099999999999966" fill="#161616" stroke="#5a5a5a" stroke-width="0.6"/>
<rect x="52" y="496.7" width="17" height="4" rx="2" ry="2.0" fill="#cacaca" filter="url(#blg)"/>
<rect x="74.2" y="496.8" width="17.299999999999997" height="3.8" rx="2" ry="1.9" fill="#c2c2c2" filter="url(#blg)"/>
<text x="28.20" y="457.16" font-size="8.3" fill="#231f20" stroke="#231f20" stroke-width="0.26" textLength="16.80" lengthAdjust="spacingAndGlyphs">Gas6</text>
<text x="31.20" y="479.06" font-size="8.3" fill="#231f20" stroke="#231f20" stroke-width="0.26" font-style="italic" textLength="13.30" lengthAdjust="spacingAndGlyphs">Mer</text>
<text x="20.30" y="500.52" font-size="7.9" fill="#231f20" stroke="#231f20" stroke-width="0.26" textLength="24.00" lengthAdjust="spacingAndGlyphs">β-actin</text>
<text x="24.20" y="519.49" font-size="8.1" fill="#231f20" stroke="#231f20" stroke-width="0.26" textLength="20.10" lengthAdjust="spacingAndGlyphs">GVHD</text>
<line x1="59.599999999999994" y1="516.6" x2="64.0" y2="516.6" stroke="#231f20" stroke-width="0.8"/>
<line x1="80.2" y1="516.6" x2="84.60000000000001" y2="516.6" stroke="#231f20" stroke-width="0.8"/>
<line x1="82.4" y1="514.4" x2="82.4" y2="518.8000000000001" stroke="#231f20" stroke-width="0.8"/>
<text transform="translate(12.70,545.50) scale(0.9,1)" text-anchor="end" font-size="9" fill="#231f20" stroke="#231f20" stroke-width="0.26">b</text>
<text transform="translate(70.40,544.46) scale(0.9,1)" text-anchor="middle" font-size="8.3" fill="#231f20" stroke="#231f20" stroke-width="0.26">Platelet</text>
<text transform="translate(70.40,553.86) scale(0.9,1)" text-anchor="middle" font-size="8.3" fill="#231f20" stroke="#231f20" stroke-width="0.26">mRNA</text>
<rect x="47.3" y="560.2" width="45.7" height="18.09999999999991" fill="#161616" stroke="#5a5a5a" stroke-width="0.6"/>
<rect x="53" y="566.9" width="14" height="4.2" rx="2" ry="2.1" fill="#707070" filter="url(#bl)"/>
<rect x="76" y="566.8" width="13.5" height="6" rx="2" ry="3.0" fill="#4c4c4c" filter="url(#bl)"/>
<rect x="47.3" y="582.5" width="46.5" height="17.100000000000023" fill="#161616" stroke="#5a5a5a" stroke-width="0.6"/>
<rect x="52" y="588.0" width="14.5" height="5" rx="2" ry="2.5" fill="#444" filter="url(#bl)"/>
<rect x="75" y="586.3" width="15" height="7" rx="2" ry="3.5" fill="#474747" filter="url(#bl)"/>
<rect x="47.8" y="603.3" width="46.0" height="17.700000000000045" fill="#161616" stroke="#5a5a5a" stroke-width="0.6"/>
<rect x="51" y="610.2" width="18" height="3.6" rx="2" ry="1.8" fill="#727272" filter="url(#bl)"/>
<rect x="72.5" y="610.7" width="18.5" height="3" rx="2" ry="1.5" fill="#636363" filter="url(#bl)"/>
<text x="27.20" y="571.66" font-size="8.3" fill="#231f20" stroke="#231f20" stroke-width="0.26" textLength="16.20" lengthAdjust="spacingAndGlyphs">Gas6</text>
<text x="30.70" y="594.86" font-size="8.3" fill="#231f20" stroke="#231f20" stroke-width="0.26" textLength="12.70" lengthAdjust="spacingAndGlyphs">Mer</text>
<text x="19.60" y="615.52" font-size="7.9" fill="#231f20" stroke="#231f20" stroke-width="0.26" textLength="23.80" lengthAdjust="spacingAndGlyphs">β-actin</text>
<text x="12.00" y="632.79" font-size="8.1" fill="#231f20" stroke="#231f20" stroke-width="0.26" textLength="31.40" lengthAdjust="spacingAndGlyphs">UNC2250</text>
<text x="9.70" y="641.59" font-size="8.1" fill="#231f20" stroke="#231f20" stroke-width="0.26" textLength="33.70" lengthAdjust="spacingAndGlyphs">(5 μmol/L)</text>
<line x1="60.099999999999994" y1="634.6" x2="64.5" y2="634.6" stroke="#231f20" stroke-width="0.8"/>
<line x1="80.8" y1="634.6" x2="85.2" y2="634.6" stroke="#231f20" stroke-width="0.8"/>
<line x1="83" y1="632.4" x2="83" y2="636.8000000000001" stroke="#231f20" stroke-width="0.8"/>
<text x="111.50" y="414.91" font-size="10.5" fill="#231f20" stroke="#231f20" stroke-width="0.05" textLength="7.00" lengthAdjust="spacingAndGlyphs">H</text>
<rect x="141.2" y="434.8" width="153.90000000000003" height="98.80000000000001" fill="#c3bfbf" />
<rect x="142.7" y="468.5" width="115.30000000000001" height="2.2" fill="#cbc7c7" />
<line x1="142.7" y1="469.5" x2="258" y2="469.5" stroke="#a29d9d" stroke-width="0.9"/>
<rect x="142.7" y="490.0" width="115.30000000000001" height="2.2" fill="#cbc7c7" />
<line x1="142.7" y1="491" x2="258" y2="491" stroke="#a29d9d" stroke-width="0.9"/>
<rect x="142.7" y="511.6" width="115.30000000000001" height="2.2" fill="#cbc7c7" />
<line x1="142.7" y1="512.6" x2="258" y2="512.6" stroke="#a29d9d" stroke-width="0.9"/>
<text transform="translate(137.70,452.25) scale(0.9,1)" text-anchor="end" font-size="8.0" fill="#231f20" stroke="#231f20" stroke-width="0.26">100</text>
<text transform="translate(137.70,473.75) scale(0.9,1)" text-anchor="end" font-size="8.0" fill="#231f20" stroke="#231f20" stroke-width="0.26">75</text>
<text transform="translate(137.70,494.75) scale(0.9,1)" text-anchor="end" font-size="8.0" fill="#231f20" stroke="#231f20" stroke-width="0.26">50</text>
<text transform="translate(137.70,516.45) scale(0.9,1)" text-anchor="end" font-size="8.0" fill="#231f20" stroke="#231f20" stroke-width="0.26">25</text>
<text transform="translate(137.70,537.55) scale(0.9,1)" text-anchor="end" font-size="8.0" fill="#231f20" stroke="#231f20" stroke-width="0.26">0</text>
<text transform="translate(142.10,545.25) scale(0.9,1)" text-anchor="middle" font-size="8.0" fill="#231f20" stroke="#231f20" stroke-width="0.26">0</text>
<text transform="translate(203.40,545.25) scale(0.9,1)" text-anchor="middle" font-size="8.0" fill="#231f20" stroke="#231f20" stroke-width="0.26">5</text>
<text transform="translate(258.00,545.25) scale(0.9,1)" text-anchor="middle" font-size="8.0" fill="#231f20" stroke="#231f20" stroke-width="0.26">10</text>
<text x="268.70" y="544.88" font-size="7.8" fill="#231f20" stroke="#231f20" stroke-width="0.26" textLength="18.20" lengthAdjust="spacingAndGlyphs">(min)</text>
<text x="125.40" y="440.58" font-size="7.5" fill="#231f20" stroke="#231f20" stroke-width="0.08" textLength="10.40" lengthAdjust="spacingAndGlyphs">(%)</text>
<text transform="translate(117.90,486.70) rotate(-90)" x="-40.00" y="0" font-size="9" fill="#231f20" stroke="#231f20" stroke-width="0.26" textLength="80.00" lengthAdjust="spacingAndGlyphs">Platelet aggregation</text>
<path d="M141.5 527.6 L141.9 527.6 L142.3 527.6 L142.7 527.6 L143.1 527.6 L143.6 527.6 L144.1 527.6 L144.6 527.5 L145.1 527.5 L145.7 527.5 L146.3 527.5 L146.9 527.5 L147.6 527.5 L148.2 527.5 L149.0 527.5 L149.7 527.5 L150.5 527.4 L151.3 527.4 L152.1 527.4 L153.0 527.4 L153.9 527.4 L154.8 527.4 L155.8 527.4 L156.8 527.3 L157.8 527.3 L158.9 527.3 L160.0 527.3 L160.5 527.3 L161.0 527.3 L161.6 527.3 L162.1 527.3 L162.7 527.3 L163.3 527.3 L163.8 527.2 L164.4 527.2 L165.0 527.2 L165.6 527.2 L166.2 527.2 L166.8 527.2 L167.5 527.2 L168.1 527.2 L168.7 527.2 L169.4 527.2 L170.0 527.2 L170.7 527.2 L171.4 527.2 L172.0 527.1 L172.7 527.1 L173.4 527.1 L174.1 527.1 L174.8 527.1 L175.5 527.1 L176.2 527.1 L176.9 527.1 L177.7 527.1 L178.4 527.1 L179.1 527.1 L179.9 527.0 L180.6 527.0 L181.3 527.0 L182.1 527.0 L182.9 527.0 L183.6 527.0 L184.4 527.0 L185.1 527.0 L185.9 527.0 L186.7 527.0 L187.4 527.0 L188.2 526.9 L189.0 526.9 L189.8 526.9 L190.5 526.9 L191.3 526.9 L192.1 526.9 L192.9 526.9 L193.7 526.9 L194.5 526.9 L195.3 526.9 L196.1 526.8 L196.8 526.8 L197.6 526.8 L198.4 526.8 L199.2 526.8 L200.0 526.8 L200.6 526.8 L201.3 526.8 L201.9 526.8 L202.6 526.8 L203.2 526.8 L203.9 526.8 L204.6 526.7 L205.2 526.7 L205.9 526.7 L206.6 526.7 L207.2 526.7 L207.9 526.7 L208.6 526.7 L209.3 526.7 L210.0 526.7 L210.7 526.7 L211.4 526.7 L212.1 526.7 L212.8 526.6 L213.5 526.6 L214.2 526.6 L214.9 526.6 L215.6 526.6 L216.3 526.6 L217.1 526.6 L217.8 526.6 L218.5 526.6 L219.2 526.6 L220.0 526.6 L220.7 526.5 L221.4 526.5 L222.1 526.5 L222.9 526.5 L223.6 526.5 L224.3 526.5 L225.1 526.5 L225.8 526.5 L226.5 526.5 L227.2 526.5 L228.0 526.5 L228.7 526.4 L229.4 526.4 L230.2 526.4 L230.9 526.4 L231.6 526.4 L232.4 526.4 L233.1 526.4 L233.8 526.4 L234.5 526.4 L235.3 526.4 L236.0 526.4 L236.7 526.3 L237.4 526.3 L238.2 526.3 L238.9 526.3 L239.6 526.3 L240.3 526.3 L241.0 526.3 L241.7 526.3 L242.4 526.3 L243.1 526.3 L243.8 526.3 L244.5 526.3 L245.2 526.3 L245.9 526.2 L246.6 526.2 L247.3 526.2 L248.0 526.2 L248.7 526.2 L249.3 526.2 L250.0 526.2 L250.7 526.2 L251.5 526.2 L252.3 526.2 L253.0 526.2 L253.8 526.2 L254.6 526.2 L255.4 526.1 L256.2 526.1 L257.0 526.1 L257.8 526.1 L258.6 526.1 L259.4 526.1 L260.2 526.1 L261.0 526.1 L261.8 526.1 L262.7 526.1 L263.5 526.1 L264.3 526.1 L265.1 526.1 L265.9 526.0 L266.8 526.0 L267.6 526.0 L268.4 526.0 L269.2 526.0 L270.0 526.0 L270.8 526.0 L271.7 526.0 L272.5 526.0 L273.3 526.0 L274.1 526.0 L274.8 526.0 L275.6 526.0 L276.4 526.0 L277.2 525.9 L277.9 525.9 L278.7 525.9 L279.4 525.9 L280.2 525.9 L280.9 525.9 L281.6 525.9 L282.4 525.9 L283.1 525.9 L283.7 525.9 L284.4 525.9 L285.1 525.9 L285.8 525.9 L286.4 525.9 L287.0 525.9 L287.6 525.9 L288.3 525.9 L288.8 525.9 L289.4 525.8 L290.0 525.8 L290.5 525.8 L291.1 525.8 L291.6 525.8 L292.1 525.8 L292.5 525.8 L293.0 525.8 L293.4 525.8 L293.9 525.8 L294.3 525.8 L294.6 525.8 L295.0 525.8" fill="none" stroke="#79b596" stroke-width="1.0" stroke-linejoin="round" />
<path d="M141.5 527.5 L141.9 527.7 L142.5 527.9 L143.1 528.1 L143.9 528.4 L144.7 528.7 L145.5 529.0 L146.2 529.2 L147.0 529.5 L147.7 529.7 L148.3 530.0 L149.0 530.3 L149.8 530.6 L150.5 530.8 L151.2 531.0 L151.8 531.2 L152.5 531.4 L153.1 531.4 L153.8 531.4 L154.5 531.3 L155.2 531.2 L155.8 531.0 L156.4 530.7 L157.1 530.2 L157.7 529.6 L158.1 529.2 L158.4 528.7 L158.8 528.2 L159.2 527.6 L159.6 527.0 L159.9 526.4 L160.3 525.7 L160.7 525.0 L161.0 524.3 L161.4 523.6 L161.7 522.9 L162.1 522.2 L162.4 521.5 L162.7 520.9 L163.0 520.2 L163.2 519.6 L163.5 518.9 L163.7 518.2 L164.0 517.5 L164.2 516.8 L164.5 516.1 L164.7 515.4 L164.9 514.8 L165.2 514.1 L165.4 513.4 L165.7 512.8 L165.9 512.2 L166.2 511.4 L166.5 510.7 L166.8 509.9 L167.1 509.2 L167.4 508.5 L167.7 507.8 L168.0 507.1 L168.3 506.4 L168.6 505.8 L168.9 505.2 L169.3 504.7 L169.8 504.0 L170.3 503.4 L170.8 502.8 L171.4 502.3 L171.9 501.9 L172.6 501.5 L173.2 501.1 L174.0 500.8 L174.6 500.6 L175.3 500.4 L176.0 500.3 L176.7 500.2 L177.5 500.1 L178.2 500.1 L179.0 500.1 L179.8 500.0 L180.6 500.0 L181.4 500.0 L182.1 500.0 L182.8 500.0 L183.6 500.0 L184.3 500.0 L185.1 500.1 L185.8 500.1 L186.5 500.2 L187.3 500.2 L188.0 500.3 L188.7 500.4 L189.5 500.5 L190.2 500.6 L190.9 500.7 L191.5 500.8 L192.1 500.9 L192.7 501.1 L193.2 501.2 L193.8 501.4 L194.5 501.5 L195.2 501.7 L196.0 501.9 L196.9 502.1 L198.0 502.4 L198.5 502.5 L199.1 502.7 L199.7 502.8 L200.3 503.0 L201.0 503.1 L201.6 503.3 L202.3 503.4 L203.1 503.6 L203.8 503.8 L204.5 504.0 L205.3 504.1 L206.1 504.3 L206.8 504.5 L207.6 504.7 L208.4 504.9 L209.1 505.1 L209.9 505.2 L210.7 505.4 L211.4 505.6 L212.2 505.8 L212.9 506.0 L213.6 506.2 L214.3 506.3 L215.0 506.5 L215.7 506.7 L216.4 506.9 L217.1 507.1 L217.8 507.2 L218.4 507.4 L219.1 507.6 L219.7 507.8 L220.4 508.0 L221.0 508.2 L221.7 508.4 L222.3 508.6 L223.0 508.8 L223.6 508.9 L224.3 509.1 L224.9 509.3 L225.6 509.5 L226.3 509.7 L227.0 509.8 L227.7 510.0 L228.5 510.2 L229.2 510.3 L230.0 510.5 L230.6 510.6 L231.3 510.7 L231.9 510.9 L232.6 511.0 L233.3 511.1 L234.0 511.2 L234.6 511.4 L235.3 511.5 L236.1 511.6 L236.8 511.7 L237.5 511.8 L238.2 511.9 L239.0 512.0 L239.7 512.1 L240.4 512.3 L241.2 512.4 L241.9 512.5 L242.7 512.6 L243.4 512.7 L244.1 512.8 L244.9 512.9 L245.6 513.0 L246.4 513.1 L247.1 513.1 L247.8 513.2 L248.6 513.3 L249.3 513.4 L250.0 513.5 L250.7 513.6 L251.4 513.7 L252.1 513.7 L252.8 513.8 L253.5 513.9 L254.2 514.0 L254.9 514.0 L255.6 514.1 L256.3 514.2 L256.9 514.2 L257.6 514.3 L258.3 514.4 L259.0 514.4 L259.7 514.5 L260.4 514.5 L261.1 514.6 L261.8 514.7 L262.5 514.7 L263.2 514.8 L263.9 514.8 L264.6 514.9 L265.4 514.9 L266.1 515.0 L266.9 515.0 L267.6 515.1 L268.4 515.1 L269.2 515.2 L270.0 515.2 L270.7 515.2 L271.3 515.3 L272.0 515.3 L272.8 515.3 L273.5 515.4 L274.3 515.4 L275.1 515.4 L275.9 515.5 L276.7 515.5 L277.5 515.5 L278.3 515.5 L279.2 515.6 L280.0 515.6 L280.8 515.6 L281.7 515.6 L282.5 515.7 L283.3 515.7 L284.2 515.7 L285.0 515.7 L285.8 515.8 L286.6 515.8 L287.3 515.8 L288.1 515.8 L288.8 515.8 L289.5 515.9 L290.2 515.9 L290.9 515.9 L291.5 515.9 L292.1 515.9 L292.7 515.9 L293.2 515.9 L293.7 516.0 L294.2 516.0 L294.6 516.0 L295.0 516.0" fill="none" stroke="#6f7986" stroke-width="1.1" stroke-linejoin="round" />
<path d="M141.5 527.8 L142.1 527.9 L143.0 528.6 L144.0 528.4 L145.1 529.2 L146.0 529.4 L146.9 529.5 L147.7 530.5 L148.5 530.5 L149.3 531.1 L150.0 530.6 L150.4 530.4 L150.7 530.4 L151.0 530.3 L151.3 529.2 L151.6 528.6 L151.9 528.0 L152.2 527.0 L152.5 525.1 L152.6 524.4 L152.7 524.3 L152.8 522.8 L152.9 522.9 L153.0 521.6 L153.1 520.7 L153.2 519.9 L153.3 519.3 L153.4 518.9 L153.5 517.4 L153.6 516.9 L153.7 516.0 L153.8 514.8 L153.9 514.0 L154.1 512.7 L154.2 511.7 L154.3 510.9 L154.4 510.4 L154.5 509.3 L154.6 508.3 L154.7 507.7 L154.8 506.7 L154.9 505.7 L155.0 505.4 L155.1 504.5 L155.1 503.4 L155.2 503.1 L155.3 502.4 L155.4 502.1 L155.6 500.6 L155.8 499.0 L156.0 498.7 L156.1 497.2 L156.3 496.8 L156.4 496.5 L156.6 495.4 L156.7 495.1 L156.9 494.1 L157.1 493.9 L157.3 493.2 L157.5 492.2 L157.6 491.7 L157.8 490.3 L158.0 489.9 L158.2 489.0 L158.4 488.1 L158.7 487.2 L158.9 486.8 L159.2 486.1 L159.5 485.0 L159.9 484.4 L160.3 483.0 L160.7 482.8 L161.1 482.0 L161.5 481.6 L162.0 480.7 L162.5 479.6 L163.0 479.0 L163.6 478.7 L164.1 477.6 L164.8 477.4 L165.5 476.6 L166.1 476.2 L166.9 475.8 L167.6 476.1 L168.5 475.2 L169.4 475.0 L170.5 474.7 L171.1 474.9 L171.8 474.0 L172.4 474.1 L173.1 473.9 L173.8 474.0 L174.6 473.7 L175.3 473.4 L176.1 472.7 L176.9 472.6 L177.7 472.3 L178.6 472.5 L179.4 472.4 L180.3 471.5 L181.2 471.3 L182.1 471.2 L182.8 471.0 L183.6 471.1 L184.4 471.1 L185.1 470.7 L185.9 470.4 L186.8 470.7 L187.6 470.5 L188.4 470.6 L189.3 470.9 L190.1 470.6 L191.0 470.3 L191.9 470.3 L192.8 470.3 L193.6 469.7 L194.5 470.4 L195.4 470.2 L196.3 470.3 L197.1 470.1 L198.0 469.7 L198.8 469.7 L199.6 469.3 L200.3 469.8 L201.1 469.2 L201.9 469.2 L202.7 469.3 L203.5 469.2 L204.3 469.3 L205.1 469.0 L205.8 469.0 L206.6 469.1 L207.4 469.0 L208.3 469.2 L209.1 468.9 L209.9 469.7 L210.7 469.4 L211.6 469.0 L212.4 469.1 L213.3 469.2 L214.1 469.2 L215.0 469.0 L215.7 469.6 L216.5 469.8 L217.3 469.3 L218.0 469.3 L218.8 469.0 L219.6 469.0 L220.4 469.2 L221.2 469.2 L222.0 469.7 L222.8 469.2 L223.6 469.1 L224.4 469.9 L225.2 469.6 L226.0 469.3 L226.9 469.7 L227.7 469.2 L228.5 469.7 L229.3 470.1 L230.1 470.1 L231.0 470.0 L231.8 469.6 L232.6 469.8 L233.4 469.6 L234.2 470.2 L235.0 470.0 L235.8 470.3 L236.6 469.9 L237.4 469.9 L238.2 470.5 L239.0 470.7 L239.8 470.6 L240.6 470.6 L241.4 470.7 L242.2 470.7 L243.0 470.2 L243.8 470.6 L244.6 470.5 L245.4 470.2 L246.2 470.3 L247.0 470.6 L247.8 470.6 L248.6 471.1 L249.4 471.4 L250.2 471.0 L251.0 471.5 L251.8 471.6 L252.6 471.6 L253.4 471.2 L254.2 471.1 L255.0 471.2 L255.8 471.2 L256.6 471.3 L257.4 471.7 L258.2 472.0 L259.0 472.0 L259.8 471.8 L260.6 472.0 L261.4 472.2 L262.2 471.6 L263.0 472.2 L263.8 472.5 L264.6 472.5 L265.4 472.5 L266.2 472.4 L267.0 472.2 L267.8 472.8 L268.6 472.5 L269.4 473.0 L270.2 473.2 L271.0 472.7 L271.8 472.8 L272.6 473.4 L273.4 473.3 L274.2 472.8 L275.0 472.9 L275.8 473.0 L276.7 473.7 L277.5 473.7 L278.4 473.2 L279.3 473.9 L280.2 474.1 L281.2 473.9 L282.1 473.7 L283.0 474.0 L284.0 473.7 L284.9 473.7 L285.8 474.6 L286.7 474.4 L287.6 474.4 L288.4 474.8 L289.3 474.4 L290.1 474.9 L290.9 474.9 L291.6 474.4 L292.3 474.5 L292.9 474.6 L293.5 474.6 L294.1 475.0 L294.6 474.7 L295.0 475.0" fill="none" stroke="#9c5a86" stroke-width="1.0" stroke-linejoin="round" stroke-dasharray="1.2 0.6"/>
<path d="M141.5 528.6 L141.8 528.5 L142.3 529.4 L142.9 529.1 L143.5 529.4 L144.1 529.8 L144.8 530.3 L145.4 530.1 L146.0 530.9 L146.6 530.8 L147.1 531.3 L147.7 531.7 L148.2 531.7 L148.8 532.5 L149.3 532.6 L149.8 532.7 L150.2 533.6 L150.8 532.9 L151.3 533.0 L151.7 532.8 L152.1 532.0 L152.5 530.8 L152.6 530.6 L152.8 530.2 L152.9 530.0 L153.0 528.8 L153.1 528.8 L153.3 527.9 L153.4 527.4 L153.5 527.2 L153.6 526.3 L153.7 525.7 L153.8 525.2 L154.0 524.6 L154.1 523.4 L154.2 522.8 L154.3 522.2 L154.4 521.7 L154.4 521.3 L154.5 520.5 L154.6 520.0 L154.7 519.3 L154.7 519.2 L154.8 518.3 L154.9 517.8 L155.0 517.3 L155.1 515.9 L155.1 515.6 L155.2 515.3 L155.3 514.5 L155.4 513.2 L155.5 512.5 L155.5 512.2 L155.6 511.2 L155.7 510.7 L155.8 510.0 L155.8 510.0 L155.9 509.5 L156.0 509.1 L156.1 507.6 L156.2 507.5 L156.3 506.8 L156.4 505.6 L156.5 505.7 L156.6 505.1 L156.7 503.7 L156.8 503.8 L156.9 502.7 L157.0 502.1 L157.1 502.1 L157.2 501.3 L157.3 500.1 L157.4 499.8 L157.5 499.4 L157.6 498.7 L157.7 498.0 L157.8 497.4 L158.0 497.2 L158.1 495.8 L158.3 495.7 L158.4 495.0 L158.5 494.1 L158.7 493.8 L158.8 493.6 L159.0 492.9 L159.1 492.0 L159.3 492.3 L159.5 491.6 L159.7 491.2 L159.9 489.7 L160.2 489.3 L160.4 488.4 L160.6 488.6 L160.9 487.5 L161.2 486.8 L161.5 486.5 L161.8 486.5 L162.1 485.8 L162.4 484.8 L162.8 484.1 L163.2 484.3 L163.6 483.5 L164.1 483.1 L164.5 482.0 L165.0 481.5 L165.5 481.7 L166.0 481.0 L166.5 480.3 L167.0 480.7 L167.5 480.1 L168.0 479.9 L168.5 478.9 L169.0 479.4 L169.5 478.4 L170.0 478.9 L170.6 478.3 L171.2 477.9 L172.0 477.9 L172.8 478.0 L173.3 477.2 L173.8 476.9 L174.3 477.2 L174.8 476.8 L175.4 476.5 L176.0 476.4 L176.6 476.1 L177.2 476.1 L177.8 476.1 L178.4 476.0 L179.1 476.3 L179.7 475.7 L180.4 475.7 L181.1 475.3 L181.7 475.3 L182.4 474.9 L183.1 475.0 L183.7 474.6 L184.4 475.2 L185.0 475.0 L185.5 474.5 L186.1 474.7 L186.7 475.1 L187.3 474.2 L187.9 474.8 L188.5 474.3 L189.1 474.3 L189.7 474.6 L190.3 474.1 L190.9 474.1 L191.5 474.2 L192.1 474.5 L192.7 473.8 L193.4 474.2 L194.0 474.0 L194.6 473.9 L195.3 473.6 L196.0 473.5 L196.6 473.1 L197.3 473.2 L198.0 473.1 L198.5 473.7 L199.1 473.2 L199.7 473.1 L200.2 473.0 L200.8 473.7 L201.4 473.7 L201.9 473.5 L202.5 473.0 L203.1 473.0 L203.7 473.0 L204.3 473.1 L204.9 472.8 L205.5 473.1 L206.1 472.9 L206.7 473.6 L207.3 473.6 L207.9 473.1 L208.6 472.8 L209.2 473.5 L209.8 472.9 L210.5 472.9 L211.1 472.5 L211.7 472.9 L212.4 473.0 L213.0 473.0 L213.7 472.7 L214.3 473.0 L215.0 472.5 L215.6 472.8 L216.1 472.6 L216.7 472.9 L217.3 472.6 L217.9 472.5 L218.5 472.8 L219.0 472.8 L219.6 473.1 L220.2 473.1 L220.8 473.3 L221.4 473.2 L222.1 473.3 L222.7 473.5 L223.3 473.0 L223.9 473.0 L224.5 473.6 L225.1 472.8 L225.7 473.4 L226.4 473.3 L227.0 472.8 L227.6 473.6 L228.2 473.6 L228.8 473.4 L229.5 473.5 L230.1 473.6 L230.7 473.0 L231.3 473.4 L231.9 473.4 L232.6 473.7 L233.2 473.7 L233.8 473.8 L234.4 473.6 L235.0 473.9 L235.6 473.7 L236.2 473.7 L236.8 473.3 L237.4 473.1 L238.0 473.3 L238.6 473.5 L239.2 473.3 L239.8 474.0 L240.5 473.8 L241.1 473.9 L241.7 473.9 L242.3 474.0 L242.9 473.9 L243.5 473.4 L244.1 474.2 L244.7 474.2 L245.3 474.0 L245.9 474.1 L246.5 474.2 L247.1 473.7 L247.7 474.4 L248.3 473.9 L248.9 473.8 L249.5 474.0 L250.2 474.5 L250.8 474.0 L251.4 474.6 L252.0 474.9 L252.6 474.4 L253.2 474.4 L253.8 474.5 L254.4 474.7 L255.0 474.9 L255.6 474.8 L256.2 474.8 L256.8 474.3 L257.4 474.4 L258.0 474.6 L258.6 475.1 L259.2 474.7 L259.8 475.0 L260.5 474.5 L261.1 474.6 L261.7 474.9 L262.3 475.3 L262.9 475.4 L263.5 475.4 L264.1 475.1 L264.7 475.4 L265.3 475.4 L265.9 475.4 L266.5 475.1 L267.1 475.9 L267.7 475.3 L268.3 476.1 L268.9 476.1 L269.5 475.3 L270.2 475.8 L270.8 476.2 L271.4 476.4 L272.0 475.9 L272.6 475.8 L273.2 475.8 L273.8 476.5 L274.4 475.9 L275.0 476.3 L275.6 475.9 L276.2 476.3 L276.9 476.8 L277.6 476.0 L278.2 476.8 L278.9 476.5 L279.6 477.0 L280.3 476.8 L281.0 476.4 L281.7 477.1 L282.4 476.8 L283.1 476.4 L283.8 476.4 L284.5 477.0 L285.2 477.0 L285.9 476.9 L286.6 476.8 L287.3 477.0 L287.9 477.0 L288.6 477.6 L289.2 476.8 L289.8 477.6 L290.4 477.8 L291.0 477.1 L291.5 477.9 L292.1 477.8 L292.6 478.0 L293.1 477.4 L293.5 477.6 L293.9 477.6 L294.3 478.2 L294.7 477.9 L295.0 477.8" fill="none" stroke="#2a2a2a" stroke-width="1.2" stroke-linejoin="round" />
<rect x="140.6" y="434.8" width="1.9" height="99.80000000000001" fill="#7a7676" />
<rect x="140.6" y="532.9" width="154.50000000000003" height="1.6" fill="#6f6b6b" />
<line x1="146.7" y1="531.6" x2="146.7" y2="533.6" stroke="#6f6b6b" stroke-width="0.8"/>
<line x1="157.79999999999998" y1="531.6" x2="157.79999999999998" y2="533.6" stroke="#6f6b6b" stroke-width="0.8"/>
<line x1="168.89999999999998" y1="531.6" x2="168.89999999999998" y2="533.6" stroke="#6f6b6b" stroke-width="0.8"/>
<line x1="180.0" y1="531.6" x2="180.0" y2="533.6" stroke="#6f6b6b" stroke-width="0.8"/>
<line x1="191.1" y1="531.6" x2="191.1" y2="533.6" stroke="#6f6b6b" stroke-width="0.8"/>
<line x1="202.2" y1="531.6" x2="202.2" y2="533.6" stroke="#6f6b6b" stroke-width="0.8"/>
<line x1="213.29999999999998" y1="531.6" x2="213.29999999999998" y2="533.6" stroke="#6f6b6b" stroke-width="0.8"/>
<line x1="224.39999999999998" y1="531.6" x2="224.39999999999998" y2="533.6" stroke="#6f6b6b" stroke-width="0.8"/>
<line x1="235.5" y1="531.6" x2="235.5" y2="533.6" stroke="#6f6b6b" stroke-width="0.8"/>
<line x1="246.59999999999997" y1="531.6" x2="246.59999999999997" y2="533.6" stroke="#6f6b6b" stroke-width="0.8"/>
<line x1="257.7" y1="531.6" x2="257.7" y2="533.6" stroke="#6f6b6b" stroke-width="0.8"/>
<line x1="268.79999999999995" y1="531.6" x2="268.79999999999995" y2="533.6" stroke="#6f6b6b" stroke-width="0.8"/>
<line x1="279.9" y1="531.6" x2="279.9" y2="533.6" stroke="#6f6b6b" stroke-width="0.8"/>
<line x1="291.0" y1="531.6" x2="291.0" y2="533.6" stroke="#6f6b6b" stroke-width="0.8"/>
<line x1="142.39999999999998" y1="523.1" x2="144.2" y2="523.1" stroke="#7a7676" stroke-width="0.7"/>
<line x1="142.39999999999998" y1="512.4" x2="144.2" y2="512.4" stroke="#7a7676" stroke-width="0.7"/>
<line x1="142.39999999999998" y1="501.70000000000005" x2="144.2" y2="501.70000000000005" stroke="#7a7676" stroke-width="0.7"/>
<line x1="142.39999999999998" y1="491.0" x2="144.2" y2="491.0" stroke="#7a7676" stroke-width="0.7"/>
<line x1="142.39999999999998" y1="480.3" x2="144.2" y2="480.3" stroke="#7a7676" stroke-width="0.7"/>
<line x1="142.39999999999998" y1="469.6" x2="144.2" y2="469.6" stroke="#7a7676" stroke-width="0.7"/>
<line x1="142.39999999999998" y1="458.90000000000003" x2="144.2" y2="458.90000000000003" stroke="#7a7676" stroke-width="0.7"/>
<line x1="142.39999999999998" y1="448.20000000000005" x2="144.2" y2="448.20000000000005" stroke="#7a7676" stroke-width="0.7"/>
<line x1="142.39999999999998" y1="437.5" x2="144.2" y2="437.5" stroke="#7a7676" stroke-width="0.7"/>
<rect x="145.3" y="408.9" width="164.8" height="52.4" fill="#ffffff" stroke="#4a4a4a" stroke-width="0.9"/>
<line x1="151.2" y1="417.2" x2="161.2" y2="417.2" stroke="#222" stroke-width="1.4"/>
<line x1="151.2" y1="428.5" x2="161.2" y2="428.5" stroke="#a8679a" stroke-width="1.4"/>
<line x1="151.2" y1="440.3" x2="161.2" y2="440.3" stroke="#3d86c6" stroke-width="1.4"/>
<line x1="151.2" y1="451.8" x2="161.2" y2="451.8" stroke="#79b596" stroke-width="1.4"/>
<text x="164.20" y="419.58" font-size="7.8" fill="#231f20" stroke="#231f20" stroke-width="0.26" textLength="64.70" lengthAdjust="spacingAndGlyphs">Collagen (2.5 μg/mL)</text>
<text x="164.20" y="430.88" font-size="7.8" fill="#231f20" stroke="#231f20" stroke-width="0.26" textLength="89.20" lengthAdjust="spacingAndGlyphs">Collagen + Gas6 (200 ng/mL)</text>
<text x="164.20" y="442.78" font-size="7.8" fill="#231f20" stroke="#231f20" stroke-width="0.26" textLength="125.60" lengthAdjust="spacingAndGlyphs">Collagen + Gas6 + UNC2250(2.5 μmol/L)</text>
<text x="164.20" y="454.38" font-size="7.8" fill="#231f20" stroke="#231f20" stroke-width="0.26" textLength="119.70" lengthAdjust="spacingAndGlyphs">Collagen + Gas6 + UNC2250(5 μmol/L)</text>
<text x="319.50" y="414.71" font-size="10.5" fill="#231f20" stroke="#231f20" stroke-width="0.05" textLength="1.80" lengthAdjust="spacingAndGlyphs">I</text>
<rect x="355.5" y="439.8" width="142.2" height="93.19999999999999" fill="#c3bfbf" />
<rect x="357.0" y="463.5" width="106.0" height="2.2" fill="#cbc7c7" />
<line x1="357.0" y1="464.5" x2="463" y2="464.5" stroke="#aca7a7" stroke-width="0.9"/>
<rect x="357.0" y="486.4" width="106.0" height="2.2" fill="#cbc7c7" />
<line x1="357.0" y1="487.4" x2="463" y2="487.4" stroke="#aca7a7" stroke-width="0.9"/>
<rect x="357.0" y="509.5" width="106.0" height="2.2" fill="#cbc7c7" />
<line x1="357.0" y1="510.5" x2="463" y2="510.5" stroke="#aca7a7" stroke-width="0.9"/>
<text transform="translate(352.90,442.95) scale(0.9,1)" text-anchor="end" font-size="8.0" fill="#231f20" stroke="#231f20" stroke-width="0.26">100</text>
<text transform="translate(352.90,467.25) scale(0.9,1)" text-anchor="end" font-size="8.0" fill="#231f20" stroke="#231f20" stroke-width="0.26">75</text>
<text transform="translate(352.90,490.15) scale(0.9,1)" text-anchor="end" font-size="8.0" fill="#231f20" stroke="#231f20" stroke-width="0.26">50</text>
<text transform="translate(352.90,513.05) scale(0.9,1)" text-anchor="end" font-size="8.0" fill="#231f20" stroke="#231f20" stroke-width="0.26">25</text>
<text transform="translate(352.90,535.95) scale(0.9,1)" text-anchor="end" font-size="8.0" fill="#231f20" stroke="#231f20" stroke-width="0.26">0</text>
<text transform="translate(358.80,544.55) scale(0.9,1)" text-anchor="middle" font-size="8.0" fill="#231f20" stroke="#231f20" stroke-width="0.26">0</text>
<text transform="translate(418.90,544.55) scale(0.9,1)" text-anchor="middle" font-size="8.0" fill="#231f20" stroke="#231f20" stroke-width="0.26">5</text>
<text transform="translate(473.80,544.55) scale(0.9,1)" text-anchor="middle" font-size="8.0" fill="#231f20" stroke="#231f20" stroke-width="0.26">10</text>
<text x="484.60" y="544.48" font-size="7.8" fill="#231f20" stroke="#231f20" stroke-width="0.26" textLength="17.70" lengthAdjust="spacingAndGlyphs">(min)</text>
<text x="340.30" y="430.68" font-size="7.5" fill="#231f20" stroke="#231f20" stroke-width="0.08" textLength="10.50" lengthAdjust="spacingAndGlyphs">(%)</text>
<text transform="translate(333.30,486.60) rotate(-90)" x="-40.00" y="0" font-size="9" fill="#231f20" stroke="#231f20" stroke-width="0.26" textLength="80.00" lengthAdjust="spacingAndGlyphs">Platelet aggregation</text>
<path d="M356.5 531.8 L497.0 531.2" fill="none" stroke="#79b596" stroke-width="0.8" stroke-linejoin="round" />
<path d="M356.5 530.5 L356.7 530.5 L356.9 530.4 L357.2 530.3 L358.2 530.3 L360.0 530.2 L360.4 530.2 L360.9 530.2 L361.3 530.2 L361.8 530.1 L362.3 530.1 L362.8 530.1 L363.4 530.1 L363.9 530.1 L364.5 530.1 L365.1 530.1 L365.7 530.1 L366.4 530.0 L367.0 530.0 L367.7 530.0 L368.4 530.0 L369.2 530.0 L369.9 530.0 L370.7 529.9 L371.5 529.9 L372.3 529.9 L373.2 529.9 L374.1 529.9 L375.0 529.9 L375.9 529.9 L376.9 529.8 L377.9 529.8 L378.9 529.8 L380.0 529.8 L380.5 529.8 L381.1 529.8 L381.6 529.8 L382.2 529.8 L382.8 529.8 L383.4 529.8 L384.0 529.8 L384.6 529.7 L385.2 529.7 L385.8 529.7 L386.5 529.7 L387.1 529.7 L387.8 529.7 L388.4 529.7 L389.1 529.7 L389.8 529.7 L390.5 529.7 L391.2 529.7 L391.9 529.7 L392.6 529.7 L393.3 529.6 L394.0 529.6 L394.7 529.6 L395.4 529.6 L396.2 529.6 L396.9 529.6 L397.6 529.6 L398.4 529.6 L399.1 529.6 L399.9 529.6 L400.6 529.6 L401.4 529.6 L402.1 529.6 L402.9 529.6 L403.6 529.5 L404.4 529.5 L405.2 529.5 L405.9 529.5 L406.7 529.5 L407.4 529.5 L408.2 529.5 L409.0 529.5 L409.7 529.5 L410.5 529.5 L411.2 529.5 L412.0 529.5 L412.7 529.5 L413.5 529.5 L414.2 529.5 L415.0 529.4 L415.7 529.4 L416.4 529.4 L417.1 529.4 L417.9 529.4 L418.6 529.4 L419.3 529.4 L420.0 529.4 L420.7 529.4 L421.4 529.4 L422.1 529.4 L422.8 529.4 L423.5 529.4 L424.2 529.4 L424.9 529.4 L425.6 529.4 L426.3 529.3 L427.1 529.3 L427.8 529.3 L428.5 529.3 L429.2 529.3 L429.9 529.3 L430.6 529.3 L431.3 529.3 L432.0 529.3 L432.7 529.3 L433.4 529.3 L434.2 529.3 L434.9 529.3 L435.6 529.3 L436.3 529.3 L437.0 529.3 L437.7 529.3 L438.4 529.3 L439.1 529.2 L439.8 529.2 L440.5 529.2 L441.2 529.2 L442.0 529.2 L442.7 529.2 L443.4 529.2 L444.1 529.2 L444.8 529.2 L445.5 529.2 L446.2 529.2 L446.9 529.2 L447.6 529.2 L448.3 529.2 L449.0 529.2 L449.7 529.2 L450.4 529.2 L451.1 529.2 L451.8 529.2 L452.5 529.2 L453.2 529.1 L453.9 529.1 L454.5 529.1 L455.2 529.1 L455.9 529.1 L456.6 529.1 L457.3 529.1 L458.0 529.1 L458.6 529.1 L459.3 529.1 L460.0 529.1 L460.7 529.1 L461.5 529.1 L462.3 529.1 L463.0 529.1 L463.8 529.1 L464.6 529.1 L465.4 529.1 L466.2 529.1 L467.0 529.1 L467.9 529.1 L468.7 529.0 L469.5 529.0 L470.3 529.0 L471.2 529.0 L472.0 529.0 L472.8 529.0 L473.6 529.0 L474.5 529.0 L475.3 529.0 L476.1 529.0 L477.0 529.0 L477.8 529.0 L478.6 529.0 L479.4 529.0 L480.2 529.0 L481.0 529.0 L481.8 529.0 L482.6 529.0 L483.3 529.0 L484.1 529.0 L484.9 529.0 L485.6 529.0 L486.3 529.0 L487.0 529.0 L487.8 528.9 L488.4 528.9 L489.1 528.9 L489.8 528.9 L490.4 528.9 L491.0 528.9 L491.7 528.9 L492.3 528.9 L492.8 528.9 L493.4 528.9 L493.9 528.9 L494.4 528.9 L494.9 528.9 L495.4 528.9 L495.8 528.9 L496.2 528.9 L496.6 528.9 L497.0 528.9" fill="none" stroke="#4f8cb8" stroke-width="0.9" stroke-linejoin="round" />
<path d="M356.5 530.8 L356.8 530.9 L357.3 530.6 L357.8 530.2 L358.4 530.2 L359.0 531.1 L359.5 530.3 L360.1 531.2 L360.7 530.3 L361.2 530.2 L361.7 530.3 L362.2 529.2 L362.3 529.1 L362.5 529.6 L362.6 529.1 L362.7 528.5 L362.8 527.8 L362.9 527.7 L363.0 527.3 L363.1 526.2 L363.1 525.8 L363.2 524.3 L363.3 524.7 L363.4 523.7 L363.5 523.5 L363.5 522.8 L363.6 521.7 L363.7 520.8 L363.8 521.5 L363.9 519.8 L364.0 519.8 L364.1 519.1 L364.2 518.6 L364.2 518.7 L364.3 518.5 L364.4 517.0 L364.5 517.1 L364.6 516.1 L364.7 515.9 L364.8 515.2 L364.8 514.4 L364.9 513.9 L365.0 513.4 L365.1 513.9 L365.2 512.8 L365.3 511.9 L365.4 512.4 L365.4 512.0 L365.5 510.8 L365.6 509.9 L365.7 509.5 L365.8 508.8 L365.9 508.6 L366.0 507.7 L366.1 507.3 L366.2 506.8 L366.3 506.7 L366.4 506.6 L366.5 505.9 L366.6 504.9 L366.6 504.4 L366.7 504.0 L366.8 503.3 L366.9 502.8 L367.0 501.9 L367.1 501.7 L367.2 502.2 L367.3 500.5 L367.4 500.6 L367.5 500.2 L367.6 500.0 L367.8 498.6 L367.9 498.1 L368.0 497.6 L368.1 497.3 L368.2 496.9 L368.3 497.2 L368.4 496.6 L368.6 496.1 L368.7 494.5 L368.8 494.0 L369.0 494.5 L369.1 494.3 L369.2 493.2 L369.4 492.8 L369.6 491.5 L369.7 491.5 L369.9 491.7 L370.1 491.1 L370.2 490.6 L370.4 490.2 L370.6 488.7 L370.8 488.0 L370.9 487.6 L371.1 487.6 L371.3 487.4 L371.5 487.3 L371.7 486.5 L372.0 485.8 L372.2 485.5 L372.4 484.6 L372.7 484.2 L372.9 483.0 L373.2 483.6 L373.5 482.4 L373.8 482.9 L374.1 482.1 L374.4 481.2 L374.7 480.6 L375.1 480.4 L375.4 480.6 L375.8 480.3 L376.1 479.1 L376.5 478.7 L376.9 479.0 L377.3 478.8 L377.7 478.2 L378.1 477.6 L378.6 477.8 L379.0 476.7 L379.4 476.8 L379.9 476.8 L380.4 477.2 L380.8 476.5 L381.3 476.6 L381.8 475.8 L382.3 475.2 L382.8 475.0 L383.3 475.8 L383.8 475.2 L384.3 474.4 L384.8 473.8 L385.3 474.3 L385.8 474.4 L386.2 473.8 L386.7 473.4 L387.2 473.8 L387.7 474.1 L388.2 472.9 L388.7 472.5 L389.2 472.8 L389.6 472.9 L390.1 473.1 L390.6 472.4 L391.1 473.2 L391.7 473.0 L392.2 472.7 L392.7 472.3 L393.2 473.3 L393.8 472.4 L394.3 473.2 L394.8 472.4 L395.3 472.4 L395.9 473.2 L396.4 472.6 L396.9 473.6 L397.4 473.0 L397.9 472.6 L398.4 472.7 L398.9 473.0 L399.4 473.4 L399.9 473.9 L400.5 472.9 L401.0 473.3 L401.6 473.2 L402.2 474.4 L402.6 473.3 L403.1 473.3 L403.5 473.4 L404.0 474.0 L404.5 474.8 L405.0 474.9 L405.4 474.8 L405.9 475.3 L406.4 475.4 L407.0 474.7 L407.5 474.6 L408.0 475.8 L408.5 475.7 L409.0 474.8 L409.5 475.8 L410.0 475.5 L410.5 475.6 L410.9 475.7 L411.4 475.5 L411.8 475.4 L412.2 475.9 L412.7 476.1 L413.1 477.0 L413.6 475.9 L414.0 477.2 L414.5 476.2 L415.0 476.5 L415.4 477.3 L416.0 477.4 L416.5 477.0 L417.1 476.6 L417.7 477.4 L418.3 477.4 L418.7 478.3 L419.1 477.4 L419.5 477.8 L420.0 478.6 L420.4 477.6 L420.8 478.2 L421.3 478.9 L421.8 479.0 L422.2 478.2 L422.7 478.3 L423.2 478.5 L423.7 479.8 L424.2 479.1 L424.7 479.9 L425.2 480.3 L425.7 479.7 L426.2 479.8 L426.7 480.9 L427.3 480.6 L427.8 480.3 L428.3 481.1 L428.8 480.7 L429.4 480.8 L429.9 480.6 L430.4 481.8 L430.9 482.2 L431.5 482.0 L432.0 482.6 L432.4 481.5 L432.9 481.9 L433.4 482.4 L433.8 483.3 L434.3 483.4 L434.8 482.8 L435.2 482.8 L435.7 483.2 L436.2 483.4 L436.7 484.2 L437.1 483.3 L437.6 484.4 L438.1 484.5 L438.6 484.8 L439.1 484.9 L439.6 484.8 L440.1 484.6 L440.5 484.8 L441.0 485.0 L441.5 485.8 L442.0 484.9 L442.5 485.3 L443.0 486.2 L443.5 485.7 L443.9 485.6 L444.4 485.7 L444.9 486.6 L445.4 486.4 L445.8 487.5 L446.3 487.5 L446.8 487.8 L447.2 486.9 L447.7 486.8 L448.2 487.0 L448.7 487.7 L449.2 488.1 L449.7 487.9 L450.2 487.8 L450.7 488.2 L451.2 488.6 L451.6 488.8 L452.1 489.0 L452.6 489.3 L453.1 489.2 L453.5 488.5 L454.0 489.7 L454.5 489.0 L454.9 489.5 L455.4 489.4 L455.9 490.0 L456.4 489.4 L456.8 489.5 L457.3 489.6 L457.8 489.6 L458.3 490.8 L458.8 490.4 L459.3 490.2 L459.8 490.4 L460.4 491.4 L460.9 490.8 L461.4 490.5 L462.0 491.4 L462.5 491.3 L462.9 491.9 L463.4 490.7 L463.8 491.3 L464.3 491.9 L464.8 492.0 L465.3 492.2 L465.8 491.0 L466.3 491.5 L466.8 491.3 L467.3 491.5 L467.8 492.7 L468.3 492.2 L468.8 492.8 L469.3 492.1 L469.8 492.8 L470.3 492.3 L470.9 492.1 L471.4 492.9 L471.9 493.3 L472.4 492.2 L472.9 492.9 L473.4 493.0 L474.0 492.5 L474.5 492.8 L475.0 492.6 L475.5 492.7 L476.0 492.9 L476.5 493.4 L477.0 493.6 L477.5 493.0 L478.0 492.8 L478.5 493.3 L479.0 493.9 L479.5 493.3 L480.0 493.5 L480.5 493.5 L481.1 494.4 L481.6 494.1 L482.2 493.5 L482.8 493.7 L483.3 494.1 L483.9 494.4 L484.5 494.7 L485.1 494.0 L485.7 494.2 L486.3 495.0 L486.9 494.7 L487.5 494.6 L488.0 494.7 L488.6 495.7 L489.2 494.9 L489.8 495.3 L490.3 495.1 L490.9 495.3 L491.4 496.0 L491.9 496.2 L492.4 495.4 L492.9 495.2 L493.4 496.0 L493.8 495.4 L494.3 495.2 L494.7 496.5 L495.1 495.9 L495.5 496.5 L495.8 495.9 L496.1 496.7 L496.4 496.1 L496.7 496.2" fill="none" stroke="#2a2a2a" stroke-width="1.0" stroke-linejoin="round" />
<rect x="354.9" y="532.0" width="142.79999999999998" height="1.2" fill="#ebe9e9" />
<rect x="354.9" y="533.2" width="142.79999999999998" height="1.3" fill="#9a9595" />
<rect x="354.9" y="439.8" width="1.7" height="94.80000000000001" fill="#6a6666" />
<rect x="360.5" y="423.6" width="131.3" height="31" fill="#ffffff" stroke="#4a4a4a" stroke-width="0.9"/>
<line x1="366" y1="432.8" x2="376.6" y2="432.8" stroke="#222" stroke-width="1.4"/>
<line x1="366" y1="444.4" x2="376.6" y2="444.4" stroke="#3d86c6" stroke-width="1.4"/>
<text x="379.80" y="435.28" font-size="7.8" fill="#231f20" stroke="#231f20" stroke-width="0.26" textLength="64.00" lengthAdjust="spacingAndGlyphs">Collagen (2.5 μg/mL)</text>
<text x="379.80" y="446.88" font-size="7.8" fill="#231f20" stroke="#231f20" stroke-width="0.26" textLength="98.70" lengthAdjust="spacingAndGlyphs">Collagen + UNC2250 (5 μmol/L)</text>
<text x="113.80" y="562.41" font-size="10.5" fill="#231f20" stroke="#231f20" stroke-width="0.05" textLength="3.50" lengthAdjust="spacingAndGlyphs">J</text>
<rect x="141.2" y="585" width="157.8" height="83.79999999999995" fill="#c3bfbf" />
<rect x="142.7" y="603.4" width="111.80000000000001" height="2.2" fill="#cbc7c7" />
<line x1="142.7" y1="604.4" x2="254.5" y2="604.4" stroke="#a29d9d" stroke-width="0.9"/>
<rect x="142.7" y="625.2" width="111.80000000000001" height="2.2" fill="#cbc7c7" />
<line x1="142.7" y1="626.2" x2="254.5" y2="626.2" stroke="#a29d9d" stroke-width="0.9"/>
<rect x="142.7" y="646.9" width="111.80000000000001" height="2.2" fill="#cbc7c7" />
<line x1="142.7" y1="647.9" x2="254.5" y2="647.9" stroke="#a29d9d" stroke-width="0.9"/>
<text transform="translate(137.70,588.15) scale(0.9,1)" text-anchor="end" font-size="8.0" fill="#231f20" stroke="#231f20" stroke-width="0.26">100</text>
<text transform="translate(137.70,609.55) scale(0.9,1)" text-anchor="end" font-size="8.0" fill="#231f20" stroke="#231f20" stroke-width="0.26">75</text>
<text transform="translate(137.70,630.65) scale(0.9,1)" text-anchor="end" font-size="8.0" fill="#231f20" stroke="#231f20" stroke-width="0.26">50</text>
<text transform="translate(137.70,652.05) scale(0.9,1)" text-anchor="end" font-size="8.0" fill="#231f20" stroke="#231f20" stroke-width="0.26">25</text>
<text transform="translate(137.70,673.35) scale(0.9,1)" text-anchor="end" font-size="8.0" fill="#231f20" stroke="#231f20" stroke-width="0.26">0</text>
<text transform="translate(144.80,680.45) scale(0.9,1)" text-anchor="middle" font-size="8.0" fill="#231f20" stroke="#231f20" stroke-width="0.26">0</text>
<text transform="translate(205.90,680.45) scale(0.9,1)" text-anchor="middle" font-size="8.0" fill="#231f20" stroke="#231f20" stroke-width="0.26">5</text>
<text transform="translate(260.70,680.45) scale(0.9,1)" text-anchor="middle" font-size="8.0" fill="#231f20" stroke="#231f20" stroke-width="0.26">10</text>
<text x="271.40" y="680.38" font-size="7.8" fill="#231f20" stroke="#231f20" stroke-width="0.26" textLength="17.60" lengthAdjust="spacingAndGlyphs">(min)</text>
<text x="125.40" y="576.28" font-size="7.5" fill="#231f20" stroke="#231f20" stroke-width="0.08" textLength="10.60" lengthAdjust="spacingAndGlyphs">(%)</text>
<text transform="translate(118.20,628.10) rotate(-90)" x="-40.00" y="0" font-size="9" fill="#231f20" stroke="#231f20" stroke-width="0.26" textLength="80.00" lengthAdjust="spacingAndGlyphs">Platelet aggregation</text>
<path d="M141.6 668.0 L142.0 667.5 L142.6 666.9 L143.3 666.1 L144.0 665.5 L144.2 664.9 L144.0 664.4 L144.6 663.9 L146.7 663.6 L147.1 663.6 L147.5 663.5 L147.9 663.5 L148.4 663.5 L148.8 663.5 L149.3 663.5 L149.8 663.5 L150.3 663.5 L150.8 663.4 L151.4 663.4 L152.0 663.4 L152.5 663.4 L153.1 663.4 L153.8 663.4 L154.4 663.4 L155.1 663.4 L155.7 663.4 L156.4 663.5 L157.2 663.5 L157.9 663.5 L158.7 663.5 L159.5 663.5 L160.3 663.5 L161.2 663.5 L162.0 663.5 L162.9 663.5 L163.9 663.5 L164.8 663.5 L165.8 663.5 L166.8 663.5 L167.8 663.5 L168.9 663.5 L170.0 663.5 L170.5 663.5 L171.0 663.5 L171.6 663.5 L172.1 663.5 L172.6 663.5 L173.2 663.5 L173.7 663.5 L174.3 663.5 L174.8 663.5 L175.4 663.5 L176.0 663.5 L176.5 663.5 L177.1 663.5 L177.7 663.5 L178.3 663.5 L178.9 663.5 L179.5 663.5 L180.1 663.5 L180.7 663.5 L181.3 663.4 L181.9 663.4 L182.6 663.4 L183.2 663.4 L183.8 663.4 L184.5 663.4 L185.1 663.4 L185.8 663.4 L186.4 663.4 L187.1 663.4 L187.8 663.4 L188.4 663.4 L189.1 663.4 L189.8 663.4 L190.5 663.4 L191.2 663.4 L191.9 663.4 L192.6 663.4 L193.3 663.4 L194.0 663.4 L194.7 663.4 L195.5 663.4 L196.2 663.4 L196.9 663.4 L197.7 663.4 L198.4 663.4 L199.2 663.4 L199.9 663.4 L200.7 663.4 L201.5 663.4 L202.3 663.4 L203.0 663.4 L203.8 663.3 L204.6 663.3 L205.4 663.3 L206.2 663.3 L207.1 663.3 L207.9 663.3 L208.7 663.3 L209.5 663.3 L210.4 663.3 L211.2 663.3 L212.1 663.3 L212.9 663.3 L213.8 663.3 L214.7 663.3 L215.5 663.3 L216.4 663.3 L217.3 663.3 L218.2 663.3 L219.1 663.3 L220.0 663.3 L220.6 663.3 L221.2 663.3 L221.8 663.3 L222.4 663.3 L223.0 663.3 L223.6 663.3 L224.3 663.3 L224.9 663.3 L225.6 663.3 L226.3 663.3 L226.9 663.3 L227.6 663.3 L228.3 663.3 L229.0 663.3 L229.7 663.3 L230.5 663.3 L231.2 663.3 L231.9 663.3 L232.6 663.3 L233.4 663.3 L234.1 663.3 L234.9 663.3 L235.7 663.3 L236.4 663.3 L237.2 663.3 L238.0 663.3 L238.8 663.3 L239.6 663.3 L240.4 663.3 L241.2 663.3 L242.0 663.3 L242.8 663.3 L243.6 663.3 L244.4 663.3 L245.2 663.3 L246.0 663.3 L246.8 663.3 L247.7 663.3 L248.5 663.3 L249.3 663.3 L250.1 663.3 L251.0 663.3 L251.8 663.2 L252.6 663.2 L253.5 663.2 L254.3 663.2 L255.1 663.2 L256.0 663.2 L256.8 663.2 L257.6 663.2 L258.5 663.2 L259.3 663.2 L260.1 663.2 L261.0 663.2 L261.8 663.2 L262.6 663.2 L263.4 663.2 L264.3 663.2 L265.1 663.2 L265.9 663.2 L266.7 663.2 L267.5 663.2 L268.3 663.2 L269.1 663.2 L269.9 663.2 L270.7 663.2 L271.5 663.2 L272.3 663.2 L273.1 663.2 L273.9 663.2 L274.7 663.2 L275.4 663.2 L276.2 663.2 L276.9 663.2 L277.7 663.2 L278.4 663.2 L279.2 663.2 L279.9 663.2 L280.6 663.2 L281.3 663.2 L282.0 663.2 L282.7 663.2 L283.4 663.2 L284.1 663.2 L284.8 663.2 L285.5 663.2 L286.1 663.2 L286.8 663.2 L287.4 663.2 L288.0 663.2 L288.7 663.2 L289.3 663.2 L289.9 663.2 L290.5 663.2 L291.0 663.2 L291.6 663.2 L292.2 663.2 L292.7 663.2 L293.2 663.2 L293.8 663.2 L294.3 663.2 L294.8 663.2 L295.3 663.2 L295.7 663.2 L296.2 663.2 L296.6 663.2 L297.1 663.2 L297.5 663.2 L297.9 663.2 L298.3 663.2 L298.6 663.2 L299.0 663.2" fill="none" stroke="#79b596" stroke-width="1.0" stroke-linejoin="round" />
<path d="M141.6 668.0 L142.2 667.0 L143.0 666.5 L143.7 666.0 L144.7 665.9 L145.4 665.1 L146.2 665.6 L147.1 665.4 L148.0 665.7 L148.8 665.5 L149.7 665.9 L150.4 666.4 L151.2 667.1 L152.0 666.6 L152.9 667.3 L153.8 667.9 L154.7 668.2 L155.5 667.5 L156.4 667.2 L157.2 667.4 L158.0 666.4 L158.3 665.4 L158.6 664.2 L158.9 664.2 L159.2 662.8 L159.5 662.3 L159.7 661.1 L160.0 660.3 L160.2 659.0 L160.4 658.8 L160.6 657.5 L160.7 656.8 L160.9 656.4 L161.1 655.5 L161.3 654.1 L161.5 653.3 L161.6 652.7 L161.8 652.0 L162.0 651.0 L162.2 649.8 L162.4 649.1 L162.6 648.6 L162.8 647.9 L162.9 646.3 L163.1 645.9 L163.3 645.2 L163.5 643.7 L163.7 643.5 L163.9 642.0 L164.1 641.5 L164.2 640.6 L164.4 639.8 L164.6 638.7 L164.8 637.9 L165.0 637.2 L165.2 636.1 L165.4 635.4 L165.6 634.4 L165.9 633.6 L166.1 632.4 L166.3 632.1 L166.6 631.1 L166.8 630.1 L167.1 629.7 L167.4 628.9 L167.7 627.8 L168.0 626.7 L168.3 626.2 L168.6 625.1 L168.9 624.2 L169.2 623.7 L169.5 622.5 L169.9 622.0 L170.3 621.2 L170.7 620.1 L171.0 620.0 L171.4 618.8 L171.8 618.6 L172.2 618.0 L172.7 617.1 L173.2 616.0 L173.7 615.8 L174.3 615.1 L174.9 615.1 L175.5 613.8 L176.2 614.0 L176.9 613.7 L177.7 613.0 L178.4 612.7 L179.3 611.7 L180.2 612.0 L181.1 611.2 L181.7 611.3 L182.4 611.0 L183.0 610.1 L183.7 610.4 L184.4 610.3 L185.1 609.2 L185.9 609.2 L186.6 609.3 L187.4 608.5 L188.2 609.0 L189.1 608.2 L189.9 608.5 L190.9 607.7 L191.8 607.8 L192.5 608.1 L193.2 607.3 L193.9 607.2 L194.7 607.3 L195.4 607.0 L196.2 606.7 L197.0 606.7 L197.8 606.6 L198.7 607.2 L199.5 606.9 L200.3 607.0 L201.2 606.3 L202.1 606.7 L202.9 606.1 L203.8 606.4 L204.6 606.4 L205.5 606.2 L206.3 606.6 L207.2 606.3 L208.0 606.3 L208.8 606.5 L209.6 605.8 L210.4 606.7 L211.2 606.3 L212.0 606.2 L212.9 606.6 L213.7 606.1 L214.5 606.8 L215.3 606.5 L216.2 606.4 L217.0 606.8 L217.8 606.6 L218.6 606.4 L219.5 607.0 L220.3 606.4 L221.1 607.2 L221.9 606.8 L222.7 607.2 L223.5 607.6 L224.2 607.3 L225.0 607.4 L225.9 607.2 L226.8 607.0 L227.6 607.2 L228.5 607.4 L229.3 607.9 L230.1 607.8 L231.0 608.0 L231.8 608.5 L232.6 607.9 L233.4 608.1 L234.3 608.6 L235.1 608.1 L235.9 608.2 L236.7 608.7 L237.5 608.6 L238.3 608.9 L239.2 608.9 L240.0 609.4 L240.8 609.5 L241.6 609.3 L242.3 609.8 L243.1 609.8 L243.8 609.6 L244.6 610.4 L245.3 609.9 L246.1 610.0 L246.8 610.0 L247.6 610.6 L248.3 611.0 L249.1 611.0 L249.9 610.8 L250.7 610.8 L251.5 610.8 L252.4 611.5 L253.2 611.5 L254.1 611.5 L255.0 611.9 L255.7 611.9 L256.4 612.4 L257.1 612.4 L257.9 612.1 L258.6 612.8 L259.4 612.2 L260.1 612.7 L260.9 612.7 L261.7 612.7 L262.4 612.7 L263.2 613.5 L264.0 613.0 L264.8 613.6 L265.7 614.1 L266.5 613.5 L267.3 613.7 L268.1 614.2 L269.0 614.3 L269.8 614.5 L270.7 614.8 L271.5 614.4 L272.4 614.7 L273.2 614.8 L274.1 614.7 L275.0 615.7 L275.8 615.7 L276.5 615.8 L277.3 615.2 L278.2 616.1 L279.0 616.2 L279.9 616.1 L280.8 616.5 L281.7 616.4 L282.7 616.3 L283.6 616.4 L284.5 616.6 L285.5 616.6 L286.4 617.0 L287.3 617.5 L288.2 617.6 L289.2 617.9 L290.1 618.0 L290.9 617.7 L291.8 618.1 L292.6 618.1 L293.4 618.6 L294.2 618.5 L295.0 618.3 L295.7 618.8 L296.3 619.2 L297.0 618.6 L297.6 619.3 L298.1 618.6 L298.6 618.9 L299.0 619.2" fill="none" stroke="#9c5a86" stroke-width="1.0" stroke-linejoin="round" stroke-dasharray="1.2 0.6"/>
<path d="M141.6 667.7 L141.8 667.9 L142.2 667.5 L142.6 666.7 L143.0 665.8 L143.5 665.9 L143.9 665.0 L144.7 664.7 L145.3 665.4 L145.9 665.1 L146.7 665.2 L147.4 665.3 L148.1 665.7 L148.8 665.3 L149.5 665.8 L150.2 665.9 L150.8 666.3 L151.4 666.2 L152.0 666.7 L152.7 666.9 L153.5 667.0 L154.2 667.1 L154.8 667.6 L155.4 666.9 L155.9 667.5 L156.4 666.2 L156.8 665.5 L157.1 665.1 L157.3 665.4 L157.6 664.2 L157.8 663.4 L158.0 662.6 L158.2 661.8 L158.3 662.0 L158.5 661.4 L158.6 660.9 L158.7 660.3 L158.8 659.0 L159.0 658.9 L159.1 658.1 L159.2 657.9 L159.3 657.3 L159.4 656.8 L159.5 655.4 L159.6 655.6 L159.7 655.1 L159.8 654.6 L159.9 653.1 L160.0 652.6 L160.1 651.8 L160.2 651.0 L160.3 651.3 L160.4 650.7 L160.5 650.0 L160.6 649.6 L160.7 648.7 L160.8 647.8 L160.9 646.9 L161.0 646.3 L161.2 646.3 L161.3 645.1 L161.4 644.6 L161.5 644.0 L161.6 643.0 L161.7 642.6 L161.8 642.0 L161.9 641.9 L162.0 640.9 L162.1 640.2 L162.2 640.2 L162.3 639.1 L162.4 638.9 L162.5 638.0 L162.6 636.8 L162.7 636.6 L162.8 636.0 L162.9 635.7 L163.0 634.6 L163.2 634.3 L163.3 633.5 L163.4 632.6 L163.6 632.6 L163.7 631.2 L163.9 631.3 L164.0 630.0 L164.2 629.2 L164.4 628.8 L164.5 628.7 L164.7 628.4 L164.9 626.8 L165.1 626.7 L165.3 626.1 L165.5 625.8 L165.7 624.6 L165.9 624.4 L166.2 623.7 L166.4 623.6 L166.6 622.5 L166.9 622.6 L167.1 621.4 L167.3 620.8 L167.6 620.8 L167.9 620.0 L168.2 619.0 L168.4 619.0 L168.7 617.8 L169.0 618.0 L169.3 617.3 L169.6 616.8 L170.0 616.1 L170.3 615.3 L170.6 614.9 L171.0 614.4 L171.4 614.4 L171.8 613.2 L172.3 613.5 L172.7 612.3 L173.1 612.1 L173.6 611.8 L174.1 612.0 L174.6 611.3 L175.1 610.8 L175.7 610.9 L176.1 609.9 L176.6 609.8 L177.1 609.6 L177.5 609.4 L178.0 609.1 L178.5 608.7 L179.0 608.0 L179.5 607.7 L180.1 607.2 L180.6 607.6 L181.2 607.1 L181.8 606.9 L182.4 606.1 L182.9 606.1 L183.5 606.3 L184.0 605.9 L184.6 605.3 L185.2 605.5 L185.8 605.8 L186.5 605.0 L187.1 604.8 L187.7 604.8 L188.3 605.1 L189.0 605.1 L189.6 604.3 L190.2 604.2 L190.7 604.2 L191.3 604.1 L191.8 604.2 L192.5 603.7 L193.2 603.8 L193.8 603.5 L194.4 604.2 L194.9 603.8 L195.5 603.1 L196.0 603.9 L196.6 602.9 L197.2 603.1 L197.9 603.6 L198.6 603.4 L199.1 603.3 L199.7 602.9 L200.2 602.7 L200.7 603.1 L201.3 602.5 L201.8 602.6 L202.4 602.7 L203.0 602.4 L203.6 602.7 L204.2 603.1 L204.9 603.0 L205.6 602.8 L206.3 602.9 L207.1 602.8 L208.0 602.4 L208.5 602.9 L209.0 602.7 L209.5 603.1 L210.0 603.2 L210.6 602.8 L211.2 602.9 L211.8 603.1 L212.4 602.8 L213.0 602.6 L213.6 603.1 L214.2 603.3 L214.9 603.2 L215.5 603.1 L216.2 603.3 L216.8 603.1 L217.5 603.1 L218.1 603.0 L218.8 602.8 L219.4 603.2 L220.1 602.7 L220.7 603.0 L221.4 603.4 L222.0 603.4 L222.6 603.3 L223.2 603.0 L223.8 603.2 L224.4 603.2 L225.0 603.4 L225.6 603.2 L226.3 603.6 L226.9 603.8 L227.5 603.1 L228.1 603.7 L228.7 603.8 L229.3 603.5 L229.9 603.6 L230.5 604.2 L231.1 603.3 L231.7 603.8 L232.3 603.5 L232.9 604.2 L233.5 604.4 L234.1 604.0 L234.7 603.7 L235.3 604.2 L235.9 604.2 L236.4 604.5 L237.0 604.3 L237.6 604.5 L238.2 604.7 L238.8 604.5 L239.4 604.5 L240.0 605.0 L240.6 604.4 L241.2 604.9 L241.8 604.7 L242.3 605.1 L242.9 604.5 L243.5 605.4 L244.1 604.9 L244.6 604.6 L245.2 604.9 L245.8 605.1 L246.3 604.8 L246.9 605.2 L247.5 605.3 L248.1 605.7 L248.6 605.4 L249.2 605.4 L249.8 605.4 L250.4 606.0 L251.1 606.3 L251.7 605.9 L252.3 605.7 L253.0 606.3 L253.6 606.0 L254.3 605.9 L255.0 605.9 L255.5 606.6 L256.1 606.7 L256.6 606.6 L257.2 606.5 L257.7 606.7 L258.3 606.4 L258.8 607.3 L259.4 606.7 L260.0 607.1 L260.6 607.3 L261.1 607.4 L261.7 607.1 L262.3 607.0 L262.9 607.4 L263.5 607.0 L264.1 607.8 L264.7 607.4 L265.4 608.0 L266.0 607.5 L266.6 607.7 L267.2 607.7 L267.9 607.9 L268.5 607.8 L269.1 607.7 L269.8 608.5 L270.4 608.1 L271.1 608.2 L271.7 608.3 L272.4 608.6 L273.0 608.6 L273.7 608.9 L274.3 609.1 L275.0 608.9 L275.6 609.5 L276.1 609.5 L276.7 608.8 L277.3 609.7 L278.0 609.8 L278.6 609.8 L279.3 609.3 L279.9 610.1 L280.6 610.0 L281.3 609.5 L282.0 609.6 L282.7 610.6 L283.4 610.4 L284.1 610.1 L284.8 610.1 L285.5 610.2 L286.2 610.4 L286.9 611.1 L287.6 610.8 L288.2 610.7 L288.9 611.5 L289.6 611.5 L290.3 611.0 L290.9 611.8 L291.6 611.6 L292.2 611.9 L292.8 611.9 L293.4 612.2 L294.0 612.2 L294.6 612.4 L295.1 611.8 L295.7 612.4 L296.2 612.3 L296.7 612.6 L297.1 612.3 L297.6 612.9 L298.0 612.6 L298.3 612.4 L298.7 612.4 L299.0 612.7" fill="none" stroke="#2a2a2a" stroke-width="1.2" stroke-linejoin="round" />
<rect x="140.6" y="585" width="1.9" height="84.79999999999995" fill="#7a7676" />
<rect x="140.6" y="668.0999999999999" width="158.4" height="1.6" fill="#6f6b6b" />
<line x1="147.2" y1="666.8" x2="147.2" y2="668.8" stroke="#6f6b6b" stroke-width="0.8"/>
<line x1="157.79999999999998" y1="666.8" x2="157.79999999999998" y2="668.8" stroke="#6f6b6b" stroke-width="0.8"/>
<line x1="168.39999999999998" y1="666.8" x2="168.39999999999998" y2="668.8" stroke="#6f6b6b" stroke-width="0.8"/>
<line x1="179.0" y1="666.8" x2="179.0" y2="668.8" stroke="#6f6b6b" stroke-width="0.8"/>
<line x1="189.6" y1="666.8" x2="189.6" y2="668.8" stroke="#6f6b6b" stroke-width="0.8"/>
<line x1="200.2" y1="666.8" x2="200.2" y2="668.8" stroke="#6f6b6b" stroke-width="0.8"/>
<line x1="210.79999999999998" y1="666.8" x2="210.79999999999998" y2="668.8" stroke="#6f6b6b" stroke-width="0.8"/>
<line x1="221.39999999999998" y1="666.8" x2="221.39999999999998" y2="668.8" stroke="#6f6b6b" stroke-width="0.8"/>
<line x1="232.0" y1="666.8" x2="232.0" y2="668.8" stroke="#6f6b6b" stroke-width="0.8"/>
<line x1="242.59999999999997" y1="666.8" x2="242.59999999999997" y2="668.8" stroke="#6f6b6b" stroke-width="0.8"/>
<line x1="253.2" y1="666.8" x2="253.2" y2="668.8" stroke="#6f6b6b" stroke-width="0.8"/>
<line x1="263.79999999999995" y1="666.8" x2="263.79999999999995" y2="668.8" stroke="#6f6b6b" stroke-width="0.8"/>
<line x1="274.4" y1="666.8" x2="274.4" y2="668.8" stroke="#6f6b6b" stroke-width="0.8"/>
<line x1="285.0" y1="666.8" x2="285.0" y2="668.8" stroke="#6f6b6b" stroke-width="0.8"/>
<line x1="295.6" y1="666.8" x2="295.6" y2="668.8" stroke="#6f6b6b" stroke-width="0.8"/>
<line x1="142.39999999999998" y1="657.3" x2="144.2" y2="657.3" stroke="#7a7676" stroke-width="0.7"/>
<line x1="142.39999999999998" y1="646.75" x2="144.2" y2="646.75" stroke="#7a7676" stroke-width="0.7"/>
<line x1="142.39999999999998" y1="636.1999999999999" x2="144.2" y2="636.1999999999999" stroke="#7a7676" stroke-width="0.7"/>
<line x1="142.39999999999998" y1="625.65" x2="144.2" y2="625.65" stroke="#7a7676" stroke-width="0.7"/>
<line x1="142.39999999999998" y1="615.0999999999999" x2="144.2" y2="615.0999999999999" stroke="#7a7676" stroke-width="0.7"/>
<line x1="142.39999999999998" y1="604.55" x2="144.2" y2="604.55" stroke="#7a7676" stroke-width="0.7"/>
<line x1="142.39999999999998" y1="594.0" x2="144.2" y2="594.0" stroke="#7a7676" stroke-width="0.7"/>
<line x1="142.39999999999998" y1="583.4499999999999" x2="144.2" y2="583.4499999999999" stroke="#7a7676" stroke-width="0.7"/>
<rect x="143.2" y="554.2" width="163.9" height="37.4" fill="#ffffff" stroke="#4a4a4a" stroke-width="0.9"/>
<line x1="151.4" y1="563.1" x2="161.3" y2="563.1" stroke="#222" stroke-width="1.4"/>
<line x1="151.4" y1="574.3" x2="161.3" y2="574.3" stroke="#a8679a" stroke-width="1.4"/>
<line x1="151.4" y1="585.5" x2="161.3" y2="585.5" stroke="#79b596" stroke-width="1.4"/>
<text x="164.50" y="564.78" font-size="7.8" fill="#231f20" stroke="#231f20" stroke-width="0.26" textLength="45.90" lengthAdjust="spacingAndGlyphs">ADP (5 μmol/L)</text>
<text x="164.50" y="576.48" font-size="7.8" fill="#231f20" stroke="#231f20" stroke-width="0.26" textLength="74.70" lengthAdjust="spacingAndGlyphs">ADP + Gas6 (200 ng/mL)</text>
<text x="164.50" y="588.28" font-size="7.8" fill="#231f20" stroke="#231f20" stroke-width="0.26" textLength="105.90" lengthAdjust="spacingAndGlyphs">ADP + Gas6 + UNC2250 (5 μmol/L)</text>
<text x="316.00" y="562.71" font-size="10.5" fill="#231f20" stroke="#231f20" stroke-width="0.05" textLength="6.00" lengthAdjust="spacingAndGlyphs">K</text>
<rect x="356.5" y="581.4" width="142.5" height="86.80000000000007" fill="#c3bfbf" />
<rect x="358.0" y="602.6" width="99.39999999999998" height="2.2" fill="#cbc7c7" />
<line x1="358.0" y1="603.6" x2="457.4" y2="603.6" stroke="#8e8989" stroke-width="1.0"/>
<rect x="358.0" y="624.8" width="99.39999999999998" height="2.2" fill="#cbc7c7" />
<line x1="358.0" y1="625.8" x2="457.4" y2="625.8" stroke="#8e8989" stroke-width="1.0"/>
<rect x="358.0" y="647.0" width="99.39999999999998" height="2.2" fill="#cbc7c7" />
<line x1="358.0" y1="648" x2="457.4" y2="648" stroke="#8e8989" stroke-width="1.0"/>
<text transform="translate(352.60,586.35) scale(0.9,1)" text-anchor="end" font-size="8.0" fill="#231f20" stroke="#231f20" stroke-width="0.26">100</text>
<text transform="translate(352.60,607.55) scale(0.9,1)" text-anchor="end" font-size="8.0" fill="#231f20" stroke="#231f20" stroke-width="0.26">75</text>
<text transform="translate(352.60,628.55) scale(0.9,1)" text-anchor="end" font-size="8.0" fill="#231f20" stroke="#231f20" stroke-width="0.26">50</text>
<text transform="translate(352.60,649.95) scale(0.9,1)" text-anchor="end" font-size="8.0" fill="#231f20" stroke="#231f20" stroke-width="0.26">25</text>
<text transform="translate(352.60,671.75) scale(0.9,1)" text-anchor="end" font-size="8.0" fill="#231f20" stroke="#231f20" stroke-width="0.26">0</text>
<text transform="translate(360.50,679.75) scale(0.9,1)" text-anchor="middle" font-size="8.0" fill="#231f20" stroke="#231f20" stroke-width="0.26">0</text>
<text transform="translate(415.80,679.75) scale(0.9,1)" text-anchor="middle" font-size="8.0" fill="#231f20" stroke="#231f20" stroke-width="0.26">5</text>
<text transform="translate(467.50,679.75) scale(0.9,1)" text-anchor="middle" font-size="8.0" fill="#231f20" stroke="#231f20" stroke-width="0.26">10</text>
<text x="478.30" y="679.68" font-size="7.8" fill="#231f20" stroke="#231f20" stroke-width="0.26" textLength="17.30" lengthAdjust="spacingAndGlyphs">(min)</text>
<text x="340.00" y="573.98" font-size="7.5" fill="#231f20" stroke="#231f20" stroke-width="0.08" textLength="11.60" lengthAdjust="spacingAndGlyphs">(%)</text>
<text style="font-family:&quot;Liberation Serif&quot;,serif" transform="translate(333.40,626.30) rotate(-90)" x="-40.25" y="0" font-size="9.3" fill="#231f20" stroke="#231f20" stroke-width="0.08" textLength="80.50" lengthAdjust="spacingAndGlyphs">Platelet aggregation</text>
<path d="M358.5 667.5 L358.7 667.1 L359.0 666.6 L359.4 665.9 L359.8 665.0 L360.1 664.0 L360.2 663.4 L360.4 662.8 L360.5 662.1 L360.6 661.4 L360.8 660.6 L360.9 659.8 L361.0 659.0 L361.1 658.2 L361.3 657.5 L361.4 656.7 L361.5 656.0 L361.6 655.2 L361.8 654.5 L361.9 653.7 L362.0 652.9 L362.2 652.2 L362.3 651.5 L362.4 650.8 L362.5 650.1 L362.7 649.5 L362.8 649.0 L363.1 647.8 L363.4 646.9 L363.8 646.3 L364.1 645.9 L364.5 645.9 L364.9 646.4 L365.5 647.5 L365.7 648.0 L366.0 648.6 L366.2 649.3 L366.5 650.0 L366.8 650.8 L367.1 651.6 L367.4 652.4 L367.7 653.2 L368.0 654.0 L368.3 654.7 L368.6 655.4 L368.9 656.1 L369.2 656.9 L369.6 657.7 L369.9 658.5 L370.3 659.2 L370.6 659.8 L370.9 660.4 L371.2 660.9 L371.5 661.3 L372.3 661.8 L373.1 661.4 L374.0 661.0 L374.5 660.9 L375.0 660.8 L375.6 660.7 L376.2 660.5 L377.1 660.4 L378.3 660.4 L378.8 660.4 L379.2 660.4 L379.7 660.4 L380.2 660.4 L380.7 660.4 L381.2 660.5 L381.7 660.5 L382.3 660.5 L382.9 660.6 L383.6 660.6 L384.3 660.6 L385.1 660.7 L386.0 660.7 L386.9 660.7 L388.0 660.7 L389.1 660.8 L390.4 660.8 L390.9 660.8 L391.4 660.8 L392.0 660.8 L392.5 660.8 L393.1 660.8 L393.7 660.8 L394.3 660.9 L394.9 660.9 L395.6 660.9 L396.2 660.9 L396.9 660.9 L397.6 660.9 L398.3 660.9 L399.0 660.9 L399.7 660.9 L400.4 660.9 L401.2 660.9 L401.9 660.9 L402.7 660.9 L403.4 660.9 L404.2 660.9 L405.0 660.9 L405.8 660.9 L406.5 661.0 L407.3 661.0 L408.1 661.0 L408.9 661.0 L409.7 661.0 L410.5 661.0 L411.3 661.0 L412.0 661.0 L412.8 661.0 L413.6 661.0 L414.4 661.0 L415.1 661.0 L415.9 661.1 L416.7 661.1 L417.4 661.1 L418.1 661.1 L418.9 661.1 L419.6 661.1 L420.3 661.1 L421.0 661.1 L421.7 661.2 L422.3 661.2 L423.0 661.2 L423.8 661.2 L424.6 661.2 L425.3 661.3 L426.1 661.3 L426.8 661.3 L427.6 661.4 L428.3 661.4 L429.1 661.4 L429.8 661.5 L430.6 661.5 L431.3 661.5 L432.0 661.6 L432.7 661.6 L433.4 661.6 L434.2 661.7 L434.9 661.7 L435.6 661.7 L436.3 661.8 L437.0 661.8 L437.7 661.8 L438.4 661.9 L439.1 661.9 L439.8 662.0 L440.4 662.0 L441.1 662.0 L441.8 662.1 L442.5 662.1 L443.2 662.1 L443.9 662.2 L444.5 662.2 L445.2 662.3 L445.9 662.3 L446.6 662.3 L447.3 662.4 L448.0 662.4 L448.6 662.4 L449.3 662.5 L450.0 662.5 L450.7 662.5 L451.5 662.6 L452.2 662.6 L453.0 662.6 L453.7 662.7 L454.4 662.7 L455.2 662.7 L455.9 662.8 L456.6 662.8 L457.4 662.8 L458.1 662.9 L458.8 662.9 L459.5 662.9 L460.2 663.0 L461.0 663.0 L461.7 663.0 L462.4 663.1 L463.1 663.1 L463.8 663.1 L464.5 663.2 L465.3 663.2 L466.0 663.2 L466.7 663.3 L467.4 663.3 L468.1 663.3 L468.8 663.4 L469.5 663.4 L470.2 663.4 L470.9 663.4 L471.6 663.5 L472.3 663.5 L472.9 663.5 L473.6 663.5 L474.3 663.6 L475.0 663.6 L475.8 663.6 L476.5 663.7 L477.3 663.7 L478.1 663.7 L478.9 663.7 L479.7 663.8 L480.6 663.8 L481.4 663.8 L482.2 663.8 L483.1 663.9 L483.9 663.9 L484.7 663.9 L485.5 663.9 L486.4 664.0 L487.2 664.0 L488.0 664.0 L488.7 664.0 L489.5 664.1 L490.3 664.1 L491.0 664.1 L491.7 664.1 L492.4 664.1 L493.1 664.2 L493.8 664.2 L494.4 664.2 L495.0 664.2 L495.5 664.2 L496.1 664.2 L496.5 664.3 L497.0 664.3 L497.4 664.3 L497.8 664.3" fill="none" stroke="#6aa888" stroke-width="1.0" stroke-linejoin="round" />
<path d="M356.8 667.1 L356.8 667.2 L356.8 666.4 L356.9 666.4 L356.9 665.6 L356.9 665.5 L356.9 665.0 L357.0 664.5 L357.0 664.3 L357.0 662.9 L357.1 663.1 L357.1 662.1 L357.1 661.6 L357.2 661.0 L357.2 660.5 L357.2 659.4 L357.3 658.7 L357.3 658.6 L357.3 657.0 L357.4 656.8 L357.4 656.1 L357.5 654.8 L357.5 654.7 L357.6 654.0 L357.6 653.6 L357.6 652.3 L357.7 652.3 L357.7 651.1 L357.8 650.5 L357.8 650.2 L357.9 648.8 L357.9 648.8 L358.0 648.2 L358.0 647.3 L358.1 647.4 L358.1 646.4 L358.2 645.7 L358.3 644.9 L358.4 644.5 L358.4 643.2 L358.5 642.8 L358.6 642.1 L358.7 641.6 L358.8 641.3 L358.9 640.2 L359.0 640.1 L359.1 639.2 L359.2 638.7 L359.3 638.0 L359.4 637.7 L359.5 637.6 L359.6 636.7 L359.8 636.4 L359.9 635.3 L360.0 634.8 L360.1 634.2 L360.2 633.8 L360.4 633.3 L360.5 632.8 L360.6 631.4 L360.8 631.4 L360.9 630.9 L361.1 629.9 L361.2 628.8 L361.4 628.4 L361.5 627.5 L361.7 627.1 L361.8 627.2 L362.0 626.3 L362.1 625.8 L362.3 625.4 L362.5 625.0 L362.6 624.2 L362.8 623.7 L363.1 623.0 L363.3 622.4 L363.6 621.7 L363.9 621.2 L364.2 620.2 L364.5 620.1 L364.8 619.4 L365.1 619.2 L365.5 618.1 L365.8 617.6 L366.2 616.9 L366.5 617.2 L366.9 616.8 L367.3 616.1 L367.7 615.3 L368.1 615.3 L368.5 614.7 L368.9 614.0 L369.4 613.2 L369.8 612.8 L370.2 612.5 L370.7 611.9 L371.1 611.6 L371.5 611.3 L371.9 611.2 L372.4 609.9 L372.8 609.9 L373.2 609.0 L373.7 608.6 L374.1 608.9 L374.6 608.3 L375.0 608.2 L375.5 607.4 L375.9 606.6 L376.4 606.6 L376.9 606.5 L377.4 606.5 L377.9 606.2 L378.5 605.4 L379.0 605.1 L379.6 604.5 L380.2 604.7 L380.7 604.1 L381.3 603.7 L381.9 603.4 L382.5 603.1 L383.0 603.6 L383.6 602.8 L384.2 603.5 L384.7 602.4 L385.3 603.0 L385.8 602.1 L386.3 601.9 L386.9 602.4 L387.4 601.8 L388.1 602.2 L388.8 601.5 L389.5 601.3 L390.4 601.9 L390.9 601.7 L391.4 601.8 L391.9 601.6 L392.4 600.9 L392.9 601.4 L393.5 601.4 L394.1 601.1 L394.7 601.5 L395.3 600.8 L395.9 601.4 L396.5 601.1 L397.1 600.4 L397.8 600.3 L398.4 600.9 L399.1 601.0 L399.8 600.2 L400.4 600.4 L401.1 600.8 L401.8 600.2 L402.5 600.8 L403.1 600.4 L403.8 600.0 L404.4 600.2 L405.0 600.4 L405.5 600.3 L406.2 600.5 L406.8 600.0 L407.4 600.6 L408.0 600.1 L408.6 600.4 L409.2 600.4 L409.9 600.2 L410.5 600.1 L411.2 600.5 L411.8 600.7 L412.4 600.5 L413.1 600.3 L413.7 600.1 L414.4 599.8 L415.0 600.8 L415.7 600.5 L416.3 600.6 L416.9 600.1 L417.5 600.4 L418.2 600.8 L418.8 600.7 L419.4 600.5 L420.0 600.2 L420.6 600.4 L421.2 600.8 L421.9 600.4 L422.5 600.7 L423.1 600.6 L423.7 601.0 L424.4 600.9 L425.0 600.4 L425.6 600.2 L426.2 600.5 L426.8 600.7 L427.4 600.9 L428.0 601.2 L428.7 601.3 L429.3 600.5 L429.8 601.3 L430.4 601.4 L431.0 601.5 L431.6 601.2 L432.2 601.0 L432.8 601.6 L433.3 601.6 L433.9 601.6 L434.5 601.9 L435.0 601.3 L435.7 601.2 L436.3 601.7 L436.9 602.0 L437.5 601.5 L438.0 602.1 L438.6 602.4 L439.1 601.8 L439.6 602.2 L440.1 602.4 L440.7 602.2 L441.2 602.1 L441.8 602.2 L442.3 602.8 L442.9 602.9 L443.6 602.7 L444.2 602.4 L444.9 603.2 L445.7 603.3 L446.5 602.8 L447.3 603.3 L447.8 603.7 L448.2 603.7 L448.7 603.4 L449.2 603.4 L449.7 603.6 L450.2 603.2 L450.8 603.3 L451.3 603.3 L451.8 603.9 L452.4 603.6 L453.0 603.9 L453.5 603.8 L454.1 604.0 L454.7 603.7 L455.3 603.6 L455.9 604.6 L456.5 604.1 L457.1 603.9 L457.7 604.5 L458.3 604.7 L458.9 604.1 L459.5 604.6 L460.2 604.4 L460.8 604.7 L461.5 604.2 L462.1 604.3 L462.7 605.3 L463.4 605.3 L464.0 605.0 L464.7 605.1 L465.4 604.9 L466.0 605.5 L466.7 605.2 L467.3 605.8 L468.0 605.7 L468.7 605.8 L469.3 606.0 L470.0 605.4 L470.6 605.2 L471.1 605.4 L471.7 605.5 L472.3 605.4 L472.9 605.5 L473.6 606.0 L474.2 606.4 L474.9 606.1 L475.5 606.6 L476.2 606.6 L476.9 605.9 L477.6 606.5 L478.3 606.3 L479.0 606.1 L479.7 607.0 L480.4 606.4 L481.1 606.8 L481.8 606.9 L482.5 607.3 L483.2 607.1 L483.9 606.9 L484.6 607.0 L485.3 606.8 L486.0 607.7 L486.7 607.8 L487.4 607.1 L488.0 607.0 L488.7 607.2 L489.3 607.4 L490.0 608.0 L490.6 608.1 L491.2 608.1 L491.8 607.3 L492.4 608.1 L493.0 608.1 L493.5 608.1 L494.0 608.5 L494.6 607.6 L495.0 607.8 L495.5 608.4 L496.0 608.7 L496.4 608.4 L496.8 608.1 L497.1 608.4 L497.5 608.6 L497.8 608.4" fill="none" stroke="#2a2a2a" stroke-width="1.2" stroke-linejoin="round" />
<rect x="355.9" y="667.6" width="143.1" height="1.2" fill="#ebe9e9" />
<rect x="355.9" y="668.8000000000001" width="143.1" height="1.3" fill="#9a9595" />
<rect x="355.9" y="581.4" width="1.7" height="88.80000000000007" fill="#6a6666" />
<rect x="359.5" y="565.5" width="116.8" height="28.2" fill="#ffffff" stroke="#4a4a4a" stroke-width="0.9"/>
<line x1="364.3" y1="571.3" x2="373.8" y2="571.3" stroke="#222" stroke-width="1.4"/>
<line x1="364.3" y1="583.8" x2="373.8" y2="583.8" stroke="#79b596" stroke-width="1.4"/>
<text x="377.00" y="573.88" font-size="7.8" fill="#231f20" stroke="#231f20" stroke-width="0.26" textLength="47.30" lengthAdjust="spacingAndGlyphs">ADP (5 μmol/L)</text>
<text x="377.00" y="586.48" font-size="7.8" fill="#231f20" stroke="#231f20" stroke-width="0.26" textLength="83.80" lengthAdjust="spacingAndGlyphs">ADP + UNC2250 (5 μmol/L)</text>
<rect x="0" y="0" width="520" height="1" fill="#4a4a4a" />
<rect x="0" y="1" width="520" height="0.6" fill="#9a9a9a" />
<rect x="0" y="0" width="1" height="689" fill="#3c3c3c" />
<rect x="1" y="0" width="0.7" height="689" fill="#8a8a8a" />
<rect x="519" y="1" width="1" height="688" fill="#0e0e0e" />
<rect x="519" y="0" width="1" height="1" fill="#8a8a8a" />
<rect x="0" y="688" width="520" height="1" fill="#0e0e0e" /></svg></body></html>
